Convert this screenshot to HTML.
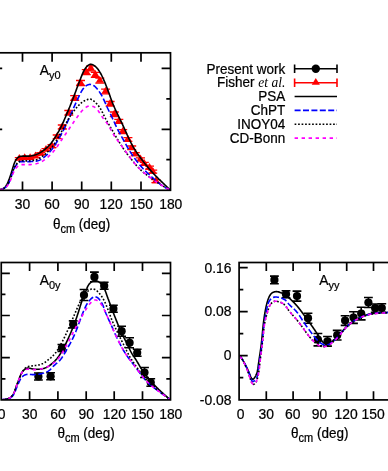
<!DOCTYPE html>
<html><head><meta charset="utf-8"><title>plot</title>
<style>html,body{margin:0;padding:0;background:#fff;}svg{display:block;will-change:transform;}text{font-family:"Liberation Sans",sans-serif;font-size:13.5px;fill:#000;stroke:#000;stroke-width:0.22px;}.sub{font-size:11px;}.tk{font-size:13.9px;}.lab{font-size:13.8px;}.it{font-family:"Liberation Serif",serif;font-style:italic;stroke:none;}</style>
</head><body>
<svg width="388" height="471" viewBox="0 0 388 471">
<rect x="0" y="0" width="388" height="471" fill="#fff"/>
<defs>
<clipPath id="cT"><rect x="-7.1" y="52.5" width="177.85" height="137.5"/></clipPath>
<clipPath id="cL"><rect x="1.25" y="262.5" width="169.5" height="137.25"/></clipPath>
<clipPath id="cR"><rect x="239.1" y="262.5" width="160.8" height="137.25"/></clipPath>
</defs>
<g id="top">
<path d="M14.80,157.66h9.0M14.80,159.66h9.0M20.20,156.99h9.0M20.20,158.99h9.0M25.60,156.85h9.0M25.60,158.85h9.0M31.00,155.33h9.0M31.00,157.33h9.0M36.30,152.65h9.0M36.30,154.65h9.0M41.50,148.60h9.0M41.50,150.60h9.0M47.50,144.70h9.0M47.50,147.70h9.0M52.70,135.00h9.0M52.70,138.60h9.0M57.80,125.00h9.0M57.80,129.00h9.0M64.30,110.50h9.0M64.30,115.10h9.0M70.20,95.70h9.0M70.20,100.30h9.0M76.00,80.50h9.0M76.00,85.50h9.0M81.80,69.70h9.0M81.80,74.70h9.0M86.30,65.80h9.0M86.30,70.80h9.0M90.80,72.30h9.0M90.80,77.30h9.0M95.30,78.10h9.0M95.30,83.10h9.0M101.10,89.20h9.0M101.10,93.80h9.0M105.60,101.50h9.0M105.60,106.10h9.0M109.80,112.00h9.0M109.80,116.60h9.0M114.30,119.40h9.0M114.30,123.40h9.0M118.20,129.70h9.0M118.20,133.70h9.0M123.40,137.70h9.0M123.40,141.30h9.0M127.20,146.00h9.0M127.20,149.60h9.0M130.80,152.70h9.0M130.80,155.70h9.0M136.00,157.80h9.0M136.00,160.80h9.0M139.80,162.30h9.0M139.80,165.30h9.0M145.00,166.20h9.0M145.00,169.20h9.0M148.20,170.10h9.0M148.20,173.10h9.0M151.40,179.70h9.0M151.40,182.70h9.0" stroke="#f00" stroke-width="1.3" fill="none"/>
<path d="M19.30,153.96L23.40,160.76L15.20,160.76ZM24.70,153.29L28.80,160.09L20.60,160.09ZM30.10,153.14L34.20,159.95L26.00,159.95ZM35.50,151.62L39.60,158.43L31.40,158.43ZM40.80,148.94L44.90,155.75L36.70,155.75ZM46.00,144.90L50.10,151.70L41.90,151.70ZM52.00,141.50L56.10,148.30L47.90,148.30ZM57.20,132.10L61.30,138.90L53.10,138.90ZM62.30,122.30L66.40,129.10L58.20,129.10ZM68.80,108.10L72.90,114.90L64.70,114.90ZM74.70,93.30L78.80,100.10L70.60,100.10ZM80.50,78.30L84.60,85.10L76.40,85.10ZM86.30,67.50L90.40,74.30L82.20,74.30ZM90.80,63.60L94.90,70.40L86.70,70.40ZM95.30,70.10L99.40,76.90L91.20,76.90ZM99.80,75.90L103.90,82.70L95.70,82.70ZM105.60,86.80L109.70,93.60L101.50,93.60ZM110.10,99.10L114.20,105.90L106.00,105.90ZM114.30,109.60L118.40,116.40L110.20,116.40ZM118.80,116.70L122.90,123.50L114.70,123.50ZM122.70,127.00L126.80,133.80L118.60,133.80ZM127.90,134.80L132.00,141.60L123.80,141.60ZM131.70,143.10L135.80,149.90L127.60,149.90ZM135.30,149.50L139.40,156.30L131.20,156.30ZM140.50,154.60L144.60,161.40L136.40,161.40ZM144.30,159.10L148.40,165.90L140.20,165.90ZM149.50,163.00L153.60,169.80L145.40,169.80ZM152.70,166.90L156.80,173.70L148.60,173.70ZM155.90,176.50L160.00,183.30L151.80,183.30Z" fill="#f00" stroke="none"/>
<g clip-path="url(#cT)" fill="none" stroke-width="1.6">
<path d="M-7.00,190.00 L-6.17,189.96 L-5.33,189.93 L-4.50,189.90 L-3.66,189.86 L-2.83,189.82 L-2.00,189.76 L-1.17,189.67 L-0.35,189.56 L0.47,189.41 L1.28,189.21 L2.08,188.97 L2.87,188.67 L3.62,188.30 L4.31,187.85 L4.92,187.30 L5.47,186.68 L5.97,186.01 L6.42,185.28 L6.83,184.53 L7.22,183.76 L7.59,182.99 L7.94,182.22 L8.27,181.45 L8.59,180.68 L8.90,179.91 L9.20,179.14 L9.48,178.36 L9.76,177.58 L10.03,176.80 L10.29,176.02 L10.55,175.23 L10.81,174.44 L11.06,173.65 L11.30,172.86 L11.55,172.06 L11.79,171.27 L12.03,170.47 L12.27,169.67 L12.51,168.87 L12.76,168.07 L13.00,167.27 L13.25,166.47 L13.50,165.67 L13.76,164.87 L14.03,164.08 L14.32,163.30 L14.62,162.52 L14.96,161.75 L15.32,161.00 L15.72,160.27 L16.16,159.56 L16.64,158.87 L17.19,158.23 L17.80,157.66 L18.48,157.18 L19.22,156.79 L20.00,156.50 L20.81,156.30 L21.64,156.18 L22.47,156.11 L23.31,156.08 L24.15,156.08 L24.98,156.10 L25.82,156.13 L26.65,156.15 L27.48,156.17 L28.31,156.16 L29.14,156.13 L29.97,156.07 L30.80,155.96 L31.62,155.82 L32.43,155.64 L33.24,155.44 L34.05,155.20 L34.85,154.95 L35.64,154.68 L36.42,154.38 L37.20,154.07 L37.96,153.74 L38.72,153.38 L39.46,153.00 L40.19,152.61 L40.91,152.18 L41.61,151.74 L42.31,151.28 L42.99,150.80 L43.66,150.30 L44.32,149.79 L44.97,149.27 L45.62,148.73 L46.25,148.19 L46.88,147.63 L47.49,147.06 L48.09,146.49 L48.68,145.90 L49.26,145.29 L49.82,144.68 L50.37,144.05 L50.90,143.42 L51.42,142.77 L51.93,142.10 L52.42,141.43 L52.90,140.75 L53.38,140.07 L53.84,139.37 L54.30,138.67 L54.75,137.97 L55.19,137.26 L55.63,136.55 L56.07,135.84 L56.50,135.12 L56.93,134.41 L57.35,133.69 L57.77,132.97 L58.19,132.25 L58.60,131.52 L59.01,130.80 L59.41,130.06 L59.80,129.33 L60.19,128.59 L60.57,127.85 L60.94,127.11 L61.31,126.36 L61.67,125.61 L62.03,124.86 L62.38,124.11 L62.73,123.35 L63.07,122.59 L63.41,121.83 L63.74,121.06 L64.07,120.30 L64.40,119.53 L64.73,118.76 L65.06,118.00 L65.38,117.23 L65.71,116.46 L66.03,115.69 L66.35,114.92 L66.68,114.16 L67.00,113.39 L67.33,112.62 L67.65,111.85 L67.97,111.08 L68.30,110.32 L68.62,109.55 L68.94,108.78 L69.26,108.01 L69.58,107.24 L69.90,106.47 L70.21,105.70 L70.53,104.93 L70.84,104.15 L71.15,103.38 L71.46,102.61 L71.76,101.83 L72.07,101.06 L72.37,100.28 L72.67,99.50 L72.97,98.72 L73.27,97.95 L73.57,97.17 L73.86,96.39 L74.16,95.61 L74.45,94.83 L74.74,94.05 L75.03,93.27 L75.32,92.49 L75.61,91.71 L75.90,90.93 L76.19,90.15 L76.48,89.37 L76.77,88.59 L77.06,87.81 L77.35,87.02 L77.65,86.24 L77.94,85.46 L78.23,84.68 L78.53,83.89 L78.83,83.11 L79.13,82.33 L79.43,81.55 L79.73,80.76 L80.03,79.99 L80.33,79.21 L80.64,78.43 L80.94,77.66 L81.25,76.89 L81.55,76.12 L81.86,75.35 L82.16,74.59 L82.47,73.83 L82.79,73.08 L83.12,72.33 L83.47,71.59 L83.84,70.85 L84.24,70.12 L84.67,69.39 L85.13,68.68 L85.64,67.97 L86.19,67.26 L86.79,66.58 L87.44,65.94 L88.12,65.37 L88.83,64.90 L89.58,64.54 L90.34,64.34 L91.13,64.31 L91.92,64.45 L92.71,64.74 L93.49,65.14 L94.23,65.61 L94.93,66.13 L95.58,66.67 L96.19,67.25 L96.77,67.84 L97.31,68.46 L97.83,69.10 L98.32,69.76 L98.80,70.44 L99.26,71.12 L99.70,71.83 L100.13,72.54 L100.55,73.27 L100.95,74.00 L101.34,74.74 L101.72,75.49 L102.09,76.25 L102.45,77.01 L102.80,77.77 L103.15,78.54 L103.49,79.30 L103.83,80.07 L104.16,80.84 L104.49,81.60 L104.81,82.37 L105.13,83.14 L105.45,83.91 L105.76,84.69 L106.06,85.46 L106.37,86.23 L106.67,87.01 L106.97,87.79 L107.26,88.56 L107.55,89.34 L107.84,90.12 L108.13,90.90 L108.41,91.69 L108.70,92.47 L108.98,93.25 L109.26,94.04 L109.54,94.82 L109.82,95.60 L110.11,96.39 L110.39,97.17 L110.67,97.96 L110.96,98.74 L111.25,99.52 L111.54,100.31 L111.83,101.09 L112.13,101.87 L112.43,102.64 L112.73,103.42 L113.04,104.19 L113.36,104.96 L113.68,105.73 L114.00,106.50 L114.33,107.27 L114.67,108.03 L115.01,108.79 L115.36,109.54 L115.71,110.30 L116.06,111.05 L116.42,111.81 L116.78,112.56 L117.15,113.31 L117.51,114.06 L117.88,114.81 L118.24,115.55 L118.61,116.30 L118.98,117.05 L119.35,117.80 L119.71,118.55 L120.08,119.30 L120.44,120.05 L120.80,120.80 L121.16,121.55 L121.51,122.31 L121.86,123.06 L122.21,123.82 L122.56,124.57 L122.91,125.33 L123.25,126.09 L123.59,126.85 L123.94,127.61 L124.28,128.37 L124.62,129.13 L124.96,129.89 L125.30,130.65 L125.64,131.41 L125.98,132.17 L126.32,132.94 L126.66,133.70 L127.00,134.46 L127.34,135.22 L127.69,135.98 L128.03,136.74 L128.38,137.50 L128.73,138.25 L129.09,139.01 L129.45,139.76 L129.81,140.51 L130.18,141.26 L130.55,142.01 L130.92,142.75 L131.30,143.49 L131.69,144.23 L132.09,144.97 L132.49,145.70 L132.90,146.42 L133.31,147.14 L133.74,147.86 L134.17,148.57 L134.61,149.28 L135.06,149.98 L135.51,150.68 L135.97,151.38 L136.43,152.07 L136.90,152.76 L137.37,153.44 L137.85,154.13 L138.33,154.81 L138.81,155.49 L139.29,156.17 L139.78,156.85 L140.27,157.52 L140.76,158.20 L141.26,158.87 L141.75,159.54 L142.26,160.20 L142.76,160.87 L143.27,161.53 L143.77,162.19 L144.29,162.84 L144.80,163.50 L145.32,164.15 L145.84,164.80 L146.37,165.45 L146.90,166.09 L147.43,166.74 L147.96,167.38 L148.50,168.01 L149.04,168.65 L149.59,169.28 L150.14,169.90 L150.69,170.53 L151.24,171.15 L151.80,171.77 L152.36,172.38 L152.93,173.00 L153.50,173.60 L154.07,174.21 L154.65,174.81 L155.23,175.41 L155.81,176.01 L156.39,176.60 L156.98,177.19 L157.57,177.78 L158.16,178.37 L158.75,178.96 L159.35,179.54 L159.94,180.12 L160.54,180.70 L161.14,181.28 L161.74,181.86 L162.34,182.44 L162.94,183.02 L163.54,183.60 L164.14,184.18 L164.74,184.75 L165.34,185.33 L165.94,185.91 L166.54,186.49 L167.14,187.07 L167.73,187.66 L168.33,188.24 L168.92,188.82 L169.51,189.41 L170.10,190.00" stroke="#000"/>
<path d="M-7.00,190.00 L-6.24,190.01 L-5.45,190.02 L-4.63,190.03 L-3.79,190.02 L-2.94,189.99 L-2.08,189.94 L-1.22,189.86 L-0.35,189.76 L0.50,189.61 L1.33,189.43 L2.15,189.20 L2.94,188.91 L3.70,188.58 L4.43,188.18 L5.11,187.72 L5.74,187.19 L6.33,186.61 L6.88,185.98 L7.38,185.30 L7.86,184.60 L8.29,183.87 L8.70,183.13 L9.08,182.38 L9.43,181.62 L9.76,180.85 L10.07,180.08 L10.37,179.31 L10.65,178.53 L10.92,177.74 L11.18,176.95 L11.44,176.16 L11.70,175.37 L11.96,174.57 L12.22,173.78 L12.48,172.99 L12.76,172.20 L13.04,171.42 L13.33,170.64 L13.63,169.87 L13.96,169.10 L14.30,168.34 L14.66,167.59 L15.05,166.86 L15.46,166.14 L15.91,165.44 L16.40,164.75 L16.93,164.09 L17.50,163.45 L18.12,162.87 L18.79,162.37 L19.52,161.99 L20.30,161.76 L21.12,161.64 L21.96,161.60 L22.82,161.60 L23.67,161.61 L24.52,161.62 L25.35,161.62 L26.18,161.63 L27.01,161.63 L27.84,161.62 L28.66,161.62 L29.49,161.61 L30.32,161.59 L31.15,161.57 L31.98,161.55 L32.81,161.50 L33.64,161.44 L34.47,161.36 L35.30,161.26 L36.13,161.12 L36.95,160.96 L37.76,160.75 L38.55,160.50 L39.33,160.21 L40.08,159.87 L40.82,159.48 L41.53,159.06 L42.23,158.60 L42.92,158.12 L43.59,157.61 L44.25,157.08 L44.90,156.54 L45.54,156.00 L46.17,155.44 L46.79,154.88 L47.40,154.32 L48.01,153.74 L48.60,153.16 L49.18,152.56 L49.74,151.96 L50.29,151.34 L50.83,150.71 L51.36,150.06 L51.87,149.41 L52.37,148.74 L52.85,148.07 L53.33,147.38 L53.80,146.69 L54.26,146.00 L54.72,145.29 L55.17,144.59 L55.61,143.88 L56.05,143.17 L56.49,142.46 L56.92,141.75 L57.36,141.04 L57.78,140.33 L58.21,139.61 L58.63,138.89 L59.05,138.17 L59.47,137.45 L59.88,136.73 L60.29,136.01 L60.70,135.28 L61.10,134.56 L61.50,133.83 L61.90,133.10 L62.30,132.36 L62.69,131.63 L63.08,130.89 L63.47,130.16 L63.85,129.42 L64.23,128.67 L64.61,127.93 L64.98,127.19 L65.35,126.44 L65.71,125.69 L66.07,124.94 L66.43,124.19 L66.78,123.43 L67.13,122.68 L67.48,121.92 L67.82,121.16 L68.16,120.40 L68.50,119.64 L68.84,118.88 L69.17,118.12 L69.51,117.36 L69.84,116.59 L70.17,115.83 L70.51,115.07 L70.84,114.30 L71.17,113.54 L71.50,112.77 L71.83,112.01 L72.17,111.25 L72.50,110.48 L72.83,109.72 L73.17,108.96 L73.50,108.20 L73.84,107.44 L74.18,106.68 L74.52,105.92 L74.86,105.16 L75.21,104.40 L75.56,103.64 L75.90,102.89 L76.25,102.13 L76.60,101.38 L76.96,100.62 L77.31,99.87 L77.66,99.11 L78.02,98.36 L78.37,97.61 L78.72,96.85 L79.08,96.10 L79.43,95.35 L79.79,94.60 L80.16,93.85 L80.54,93.11 L80.92,92.37 L81.33,91.64 L81.75,90.92 L82.18,90.21 L82.64,89.51 L83.13,88.82 L83.64,88.15 L84.18,87.50 L84.76,86.89 L85.37,86.32 L86.03,85.80 L86.73,85.35 L87.48,84.97 L88.28,84.67 L89.10,84.48 L89.93,84.40 L90.76,84.45 L91.57,84.62 L92.37,84.90 L93.14,85.27 L93.87,85.71 L94.55,86.20 L95.19,86.74 L95.79,87.32 L96.37,87.92 L96.91,88.55 L97.44,89.20 L97.95,89.87 L98.45,90.53 L98.94,91.21 L99.42,91.89 L99.89,92.58 L100.35,93.28 L100.79,93.98 L101.22,94.69 L101.64,95.41 L102.04,96.14 L102.43,96.87 L102.80,97.61 L103.17,98.36 L103.53,99.11 L103.88,99.87 L104.23,100.62 L104.57,101.39 L104.90,102.15 L105.24,102.91 L105.57,103.68 L105.91,104.44 L106.25,105.21 L106.59,105.97 L106.93,106.73 L107.28,107.48 L107.63,108.24 L107.99,108.99 L108.35,109.74 L108.71,110.49 L109.07,111.24 L109.43,111.99 L109.79,112.74 L110.16,113.49 L110.52,114.24 L110.88,114.99 L111.25,115.74 L111.60,116.49 L111.96,117.24 L112.32,117.99 L112.67,118.75 L113.02,119.50 L113.37,120.26 L113.72,121.02 L114.07,121.77 L114.41,122.53 L114.76,123.29 L115.11,124.04 L115.47,124.80 L115.82,125.55 L116.18,126.30 L116.54,127.05 L116.90,127.80 L117.27,128.55 L117.64,129.29 L118.01,130.04 L118.39,130.78 L118.78,131.51 L119.17,132.25 L119.57,132.98 L119.96,133.71 L120.37,134.44 L120.77,135.17 L121.18,135.90 L121.58,136.62 L121.99,137.35 L122.40,138.07 L122.81,138.80 L123.22,139.52 L123.63,140.25 L124.03,140.98 L124.44,141.71 L124.84,142.44 L125.24,143.17 L125.64,143.90 L126.04,144.63 L126.44,145.36 L126.84,146.09 L127.24,146.82 L127.65,147.54 L128.07,148.26 L128.49,148.98 L128.92,149.69 L129.35,150.40 L129.79,151.11 L130.24,151.81 L130.69,152.51 L131.15,153.20 L131.61,153.90 L132.08,154.59 L132.55,155.28 L133.02,155.97 L133.49,156.65 L133.97,157.33 L134.45,158.02 L134.94,158.69 L135.43,159.37 L135.92,160.04 L136.42,160.71 L136.92,161.38 L137.42,162.04 L137.94,162.69 L138.45,163.35 L138.98,163.99 L139.51,164.63 L140.04,165.27 L140.59,165.90 L141.14,166.52 L141.69,167.14 L142.26,167.75 L142.82,168.36 L143.40,168.96 L143.98,169.56 L144.56,170.15 L145.15,170.74 L145.74,171.33 L146.34,171.91 L146.94,172.49 L147.54,173.07 L148.15,173.64 L148.76,174.21 L149.37,174.78 L149.98,175.35 L150.59,175.91 L151.21,176.48 L151.83,177.04 L152.44,177.60 L153.06,178.16 L153.68,178.71 L154.31,179.27 L154.93,179.82 L155.56,180.36 L156.20,180.90 L156.84,181.44 L157.48,181.97 L158.12,182.49 L158.77,183.01 L159.43,183.52 L160.09,184.02 L160.76,184.51 L161.43,185.00 L162.11,185.48 L162.80,185.94 L163.49,186.40 L164.19,186.85 L164.90,187.29 L165.62,187.71 L166.34,188.13 L167.07,188.53 L167.82,188.92 L168.57,189.29 L169.33,189.65 L170.10,190.00" stroke="#00f" stroke-dasharray="6 2.4"/>
<path d="M-7.00,190.00 L-6.24,190.00 L-5.45,190.00 L-4.64,189.99 L-3.80,189.97 L-2.95,189.93 L-2.08,189.87 L-1.22,189.78 L-0.35,189.66 L0.50,189.50 L1.34,189.31 L2.15,189.06 L2.94,188.77 L3.70,188.42 L4.41,188.01 L5.08,187.54 L5.70,187.00 L6.27,186.40 L6.80,185.75 L7.29,185.07 L7.75,184.35 L8.17,183.61 L8.57,182.86 L8.95,182.10 L9.30,181.35 L9.64,180.58 L9.96,179.81 L10.26,179.04 L10.55,178.26 L10.83,177.48 L11.10,176.70 L11.37,175.90 L11.62,175.11 L11.88,174.32 L12.14,173.52 L12.40,172.73 L12.67,171.93 L12.94,171.15 L13.23,170.37 L13.54,169.59 L13.86,168.83 L14.20,168.07 L14.56,167.33 L14.95,166.60 L15.36,165.88 L15.80,165.17 L16.27,164.47 L16.77,163.79 L17.31,163.12 L17.89,162.49 L18.51,161.92 L19.19,161.46 L19.93,161.13 L20.73,160.93 L21.57,160.83 L22.42,160.80 L23.28,160.80 L24.13,160.81 L24.98,160.83 L25.81,160.84 L26.64,160.86 L27.47,160.86 L28.29,160.86 L29.12,160.84 L29.94,160.80 L30.77,160.74 L31.60,160.66 L32.42,160.56 L33.25,160.43 L34.08,160.29 L34.90,160.12 L35.71,159.92 L36.52,159.69 L37.31,159.42 L38.07,159.11 L38.82,158.75 L39.55,158.35 L40.25,157.91 L40.94,157.44 L41.62,156.94 L42.29,156.43 L42.95,155.91 L43.60,155.38 L44.24,154.84 L44.88,154.31 L45.52,153.77 L46.14,153.22 L46.76,152.66 L47.37,152.10 L47.97,151.52 L48.56,150.94 L49.14,150.34 L49.71,149.73 L50.27,149.11 L50.82,148.48 L51.36,147.84 L51.88,147.19 L52.40,146.54 L52.90,145.87 L53.39,145.19 L53.87,144.51 L54.34,143.82 L54.80,143.13 L55.25,142.43 L55.69,141.72 L56.13,141.01 L56.55,140.29 L56.98,139.58 L57.40,138.86 L57.82,138.13 L58.23,137.41 L58.65,136.69 L59.06,135.97 L59.48,135.24 L59.90,134.52 L60.31,133.80 L60.73,133.08 L61.14,132.35 L61.55,131.63 L61.96,130.90 L62.37,130.18 L62.78,129.45 L63.18,128.72 L63.58,127.99 L63.98,127.26 L64.37,126.52 L64.76,125.79 L65.15,125.05 L65.54,124.31 L65.93,123.58 L66.32,122.84 L66.72,122.11 L67.12,121.37 L67.52,120.64 L67.93,119.92 L68.35,119.20 L68.77,118.48 L69.20,117.77 L69.64,117.06 L70.09,116.36 L70.55,115.67 L71.02,114.98 L71.49,114.29 L71.97,113.61 L72.45,112.93 L72.94,112.25 L73.44,111.58 L73.94,110.91 L74.44,110.25 L74.96,109.59 L75.47,108.94 L76.00,108.29 L76.54,107.65 L77.08,107.02 L77.64,106.40 L78.21,105.80 L78.80,105.20 L79.40,104.62 L80.01,104.05 L80.64,103.50 L81.29,102.97 L81.95,102.46 L82.62,101.97 L83.32,101.50 L84.03,101.06 L84.75,100.65 L85.49,100.27 L86.26,99.93 L87.04,99.64 L87.84,99.39 L88.67,99.20 L89.50,99.10 L90.31,99.14 L91.10,99.34 L91.86,99.68 L92.59,100.12 L93.30,100.63 L93.98,101.18 L94.64,101.75 L95.27,102.32 L95.88,102.91 L96.47,103.50 L97.04,104.11 L97.59,104.73 L98.11,105.36 L98.62,106.00 L99.10,106.66 L99.57,107.34 L100.02,108.03 L100.45,108.73 L100.87,109.44 L101.27,110.17 L101.66,110.90 L102.05,111.64 L102.43,112.39 L102.80,113.14 L103.17,113.90 L103.53,114.65 L103.90,115.41 L104.27,116.16 L104.64,116.92 L105.02,117.66 L105.41,118.41 L105.80,119.15 L106.21,119.88 L106.62,120.61 L107.03,121.33 L107.45,122.05 L107.87,122.77 L108.30,123.48 L108.72,124.20 L109.15,124.91 L109.57,125.63 L110.00,126.34 L110.42,127.06 L110.84,127.78 L111.25,128.50 L111.66,129.23 L112.07,129.95 L112.48,130.68 L112.88,131.41 L113.29,132.14 L113.70,132.86 L114.10,133.59 L114.52,134.32 L114.93,135.04 L115.34,135.76 L115.77,136.48 L116.19,137.20 L116.62,137.91 L117.05,138.62 L117.49,139.33 L117.93,140.04 L118.37,140.75 L118.81,141.46 L119.25,142.16 L119.70,142.87 L120.15,143.57 L120.59,144.27 L121.04,144.98 L121.49,145.68 L121.93,146.39 L122.38,147.09 L122.84,147.79 L123.29,148.48 L123.75,149.18 L124.22,149.87 L124.69,150.56 L125.17,151.24 L125.65,151.91 L126.15,152.58 L126.65,153.25 L127.15,153.91 L127.66,154.57 L128.17,155.23 L128.68,155.89 L129.20,156.54 L129.72,157.19 L130.24,157.85 L130.76,158.50 L131.28,159.15 L131.80,159.80 L132.32,160.46 L132.84,161.11 L133.36,161.76 L133.88,162.42 L134.40,163.06 L134.93,163.71 L135.47,164.35 L136.01,164.98 L136.55,165.61 L137.10,166.23 L137.67,166.85 L138.24,167.45 L138.82,168.05 L139.40,168.64 L140.00,169.22 L140.61,169.80 L141.22,170.36 L141.84,170.92 L142.46,171.48 L143.09,172.02 L143.73,172.56 L144.37,173.10 L145.01,173.63 L145.66,174.15 L146.32,174.67 L146.97,175.19 L147.63,175.70 L148.29,176.20 L148.96,176.70 L149.63,177.20 L150.30,177.70 L150.97,178.18 L151.65,178.67 L152.33,179.15 L153.01,179.63 L153.70,180.11 L154.38,180.58 L155.07,181.04 L155.77,181.51 L156.46,181.97 L157.16,182.43 L157.86,182.88 L158.56,183.33 L159.26,183.78 L159.97,184.22 L160.68,184.66 L161.39,185.09 L162.10,185.52 L162.82,185.95 L163.54,186.37 L164.26,186.79 L164.98,187.21 L165.70,187.62 L166.43,188.03 L167.16,188.43 L167.89,188.83 L168.63,189.22 L169.36,189.61 L170.10,190.00" stroke="#000" stroke-dasharray="1.7 1.8"/>
<path d="M-7.00,190.00 L-6.24,189.99 L-5.44,189.98 L-4.63,189.97 L-3.79,189.96 L-2.94,189.94 L-2.09,189.90 L-1.23,189.84 L-0.37,189.75 L0.48,189.63 L1.32,189.47 L2.14,189.26 L2.94,189.01 L3.71,188.70 L4.45,188.34 L5.14,187.90 L5.80,187.40 L6.42,186.85 L6.99,186.24 L7.53,185.59 L8.03,184.91 L8.50,184.20 L8.93,183.49 L9.33,182.75 L9.71,182.01 L10.06,181.26 L10.39,180.50 L10.71,179.73 L11.02,178.96 L11.31,178.18 L11.60,177.40 L11.89,176.62 L12.18,175.84 L12.48,175.07 L12.78,174.29 L13.09,173.52 L13.42,172.76 L13.76,172.00 L14.12,171.26 L14.51,170.52 L14.92,169.80 L15.36,169.10 L15.84,168.41 L16.35,167.75 L16.90,167.11 L17.49,166.50 L18.12,165.94 L18.80,165.46 L19.53,165.09 L20.31,164.84 L21.13,164.69 L21.97,164.62 L22.82,164.60 L23.66,164.60 L24.50,164.60 L25.34,164.61 L26.17,164.62 L27.00,164.63 L27.82,164.64 L28.65,164.63 L29.47,164.62 L30.30,164.59 L31.13,164.54 L31.96,164.47 L32.79,164.38 L33.62,164.27 L34.44,164.14 L35.26,163.98 L36.08,163.80 L36.89,163.59 L37.69,163.35 L38.48,163.08 L39.25,162.78 L40.02,162.46 L40.77,162.10 L41.52,161.72 L42.24,161.32 L42.96,160.89 L43.66,160.44 L44.35,159.97 L45.02,159.48 L45.68,158.97 L46.33,158.45 L46.96,157.92 L47.59,157.37 L48.21,156.82 L48.82,156.25 L49.42,155.68 L50.02,155.10 L50.61,154.51 L51.20,153.92 L51.78,153.32 L52.35,152.71 L52.91,152.10 L53.45,151.48 L53.99,150.84 L54.52,150.20 L55.03,149.55 L55.53,148.89 L56.03,148.22 L56.51,147.55 L56.99,146.86 L57.46,146.18 L57.92,145.49 L58.38,144.80 L58.84,144.10 L59.30,143.41 L59.76,142.71 L60.22,142.02 L60.68,141.33 L61.14,140.64 L61.61,139.95 L62.07,139.26 L62.54,138.57 L63.01,137.89 L63.47,137.20 L63.94,136.51 L64.41,135.83 L64.87,135.14 L65.34,134.45 L65.81,133.76 L66.27,133.08 L66.74,132.39 L67.20,131.70 L67.67,131.01 L68.13,130.32 L68.60,129.63 L69.06,128.94 L69.52,128.25 L69.99,127.56 L70.45,126.88 L70.92,126.19 L71.38,125.50 L71.85,124.81 L72.31,124.12 L72.78,123.43 L73.25,122.75 L73.72,122.06 L74.19,121.38 L74.66,120.69 L75.13,120.01 L75.61,119.33 L76.08,118.65 L76.56,117.97 L77.04,117.29 L77.53,116.62 L78.01,115.94 L78.50,115.27 L78.99,114.60 L79.49,113.93 L79.99,113.27 L80.50,112.62 L81.02,111.97 L81.56,111.33 L82.11,110.71 L82.68,110.10 L83.27,109.51 L83.88,108.93 L84.51,108.38 L85.17,107.85 L85.86,107.37 L86.57,106.94 L87.31,106.57 L88.09,106.27 L88.89,106.05 L89.72,105.93 L90.55,105.90 L91.39,105.97 L92.22,106.13 L93.03,106.38 L93.81,106.70 L94.55,107.10 L95.24,107.57 L95.88,108.10 L96.48,108.67 L97.04,109.29 L97.57,109.94 L98.08,110.61 L98.56,111.30 L99.03,112.00 L99.49,112.70 L99.94,113.40 L100.39,114.11 L100.84,114.81 L101.29,115.50 L101.74,116.19 L102.20,116.88 L102.67,117.56 L103.16,118.23 L103.65,118.90 L104.15,119.56 L104.66,120.22 L105.17,120.88 L105.68,121.54 L106.19,122.20 L106.68,122.86 L107.17,123.54 L107.64,124.22 L108.10,124.91 L108.54,125.61 L108.97,126.32 L109.38,127.04 L109.79,127.77 L110.18,128.50 L110.58,129.23 L110.97,129.97 L111.35,130.71 L111.75,131.44 L112.14,132.17 L112.54,132.90 L112.95,133.62 L113.38,134.34 L113.81,135.05 L114.26,135.75 L114.71,136.45 L115.17,137.14 L115.64,137.82 L116.11,138.51 L116.59,139.18 L117.08,139.86 L117.57,140.53 L118.06,141.21 L118.55,141.88 L119.04,142.54 L119.54,143.21 L120.03,143.88 L120.53,144.54 L121.03,145.21 L121.53,145.87 L122.03,146.54 L122.53,147.20 L123.03,147.86 L123.53,148.53 L124.03,149.19 L124.52,149.86 L125.02,150.53 L125.51,151.19 L126.00,151.87 L126.49,152.54 L126.97,153.21 L127.46,153.89 L127.94,154.56 L128.43,155.24 L128.91,155.91 L129.40,156.58 L129.89,157.26 L130.38,157.93 L130.87,158.60 L131.37,159.26 L131.87,159.93 L132.38,160.59 L132.89,161.24 L133.40,161.90 L133.92,162.55 L134.45,163.19 L134.98,163.83 L135.52,164.46 L136.06,165.09 L136.62,165.71 L137.17,166.33 L137.74,166.93 L138.32,167.53 L138.90,168.12 L139.49,168.71 L140.09,169.29 L140.69,169.86 L141.30,170.42 L141.92,170.98 L142.54,171.53 L143.17,172.08 L143.80,172.62 L144.44,173.15 L145.08,173.68 L145.73,174.20 L146.38,174.72 L147.03,175.24 L147.69,175.74 L148.35,176.25 L149.01,176.75 L149.68,177.24 L150.35,177.74 L151.02,178.22 L151.70,178.71 L152.38,179.19 L153.06,179.66 L153.74,180.14 L154.43,180.61 L155.12,181.07 L155.81,181.53 L156.50,181.99 L157.19,182.45 L157.89,182.90 L158.59,183.35 L159.29,183.79 L160.00,184.23 L160.70,184.67 L161.41,185.11 L162.12,185.54 L162.84,185.96 L163.55,186.38 L164.27,186.80 L164.99,187.22 L165.72,187.63 L166.44,188.03 L167.17,188.43 L167.90,188.83 L168.63,189.23 L169.36,189.61 L170.10,190.00" stroke="#f0f" stroke-dasharray="3.4 3.6"/>
</g>
<rect x="-6.7" y="52.8" width="177.2" height="137.5" fill="none" stroke="#000" stroke-width="1.7"/>
<path d="M22.5,190.3v-8.9M22.5,52.8v8.9M52.1,190.3v-8.9M52.1,52.8v8.9M81.7,190.3v-8.9M81.7,52.8v8.9M111.3,190.3v-8.9M111.3,52.8v8.9M141,190.3v-8.9M141,52.8v8.9M-6.7,68.4h8.9M-6.7,129.3h8.9M170.5,68.4h-8.9M170.5,129.3h-8.9M-6.7,98.8h4.2M170.5,98.8h-4.2M-6.7,159.7h4.2M170.5,159.7h-4.2" stroke="#000" stroke-width="1.7" fill="none"/>
<text transform="translate(22.5 209.3) scale(1 1.1)" class="tk" text-anchor="middle">30</text>
<text transform="translate(52.1 209.3) scale(1 1.1)" class="tk" text-anchor="middle">60</text>
<text transform="translate(81.8 209.3) scale(1 1.1)" class="tk" text-anchor="middle">90</text>
<text transform="translate(111.2 209.3) scale(1 1.1)" class="tk" text-anchor="middle">120</text>
<text transform="translate(141.3 209.3) scale(1 1.1)" class="tk" text-anchor="middle">150</text>
<text transform="translate(170.75 209.3) scale(1 1.1)" class="tk" text-anchor="middle">180</text>
<text transform="translate(52.9 229) scale(1 1.1)">θ<tspan class="sub" dy="3.8">cm</tspan><tspan dy="-3.8"> (deg)</tspan></text>
<text transform="translate(39.7 75.4) scale(1 1.06)" class="lab">A<tspan class="sub" dy="3.8">y0</tspan></text>
</g>
<g id="legend">
<text transform="translate(285.3 73.5) scale(1 1.1)" text-anchor="end">Present work</text>
<text transform="translate(285.3 87.3) scale(1 1.1)" text-anchor="end">Fisher <tspan class="it">et al.</tspan></text>
<text transform="translate(285.3 101.1) scale(1 1.1)" text-anchor="end">PSA</text>
<text transform="translate(285.3 114.9) scale(1 1.1)" text-anchor="end">ChPT</text>
<text transform="translate(285.3 128.7) scale(1 1.1)" text-anchor="end">INOY04</text>
<text transform="translate(285.3 142.5) scale(1 1.1)" text-anchor="end">CD-Bonn</text>
<path d="M294.6,68.8H337M294.6,64.5v8.6M337,64.5v8.6" stroke="#000" stroke-width="1.6" fill="none"/>
<circle cx="315.8" cy="68.8" r="4.2" fill="#000"/>
<path d="M294.6,82.7H337M294.6,78.4v8.6M337,78.4v8.6" stroke="#f00" stroke-width="1.6" fill="none"/>
<path d="M315.80,78.00L319.90,84.80L311.70,84.80Z" fill="#f00"/>
<path d="M294.6,96.5H337" stroke="#000" stroke-width="1.6"/>
<path d="M294.6,110.4H337" stroke="#00f" stroke-width="1.6" stroke-dasharray="6 2.4"/>
<path d="M294.6,124.2H337" stroke="#000" stroke-width="1.6" stroke-dasharray="1.7 1.8"/>
<path d="M294.6,138.1H337" stroke="#f0f" stroke-width="1.6" stroke-dasharray="3.4 3.6"/>
</g>
<g id="bl">
<path d="M38.4,373.0V380.0M34.0,373.0h8.8M34.0,380.0h8.8M50.6,372.8V379.8M46.2,372.8h8.8M46.2,379.8h8.8M61.9,344.5V351.5M57.5,344.5h8.8M57.5,351.5h8.8M73.2,320.9V327.9M68.8,320.9h8.8M68.8,327.9h8.8M84,289.5V300.5M79.6,289.5h8.8M79.6,300.5h8.8M94.4,272.09999999999997V281.7M90.0,272.09999999999997h8.8M90.0,281.7h8.8M104.2,282.3V289.3M99.8,282.3h8.8M99.8,289.3h8.8M113.4,305.3V312.3M109.0,305.3h8.8M109.0,312.3h8.8M121.6,326.2V336.2M117.19999999999999,326.2h8.8M117.19999999999999,336.2h8.8M129.6,337.8V347.8M125.19999999999999,337.8h8.8M125.19999999999999,347.8h8.8M137.2,349.3V356.3M132.79999999999998,349.3h8.8M132.79999999999998,356.3h8.8M144.5,367.5V377.5M140.1,367.5h8.8M140.1,377.5h8.8M150.75,378.7V386.3M146.35,378.7h8.8M146.35,386.3h8.8" stroke="#000" stroke-width="1.6" fill="none"/>
<circle cx="38.4" cy="376.5" r="4.1" fill="#000"/>
<circle cx="50.6" cy="376.3" r="4.1" fill="#000"/>
<circle cx="61.9" cy="348" r="4.1" fill="#000"/>
<circle cx="73.2" cy="324.4" r="4.1" fill="#000"/>
<circle cx="84" cy="295" r="4.1" fill="#000"/>
<circle cx="94.4" cy="276.9" r="4.1" fill="#000"/>
<circle cx="104.2" cy="285.8" r="4.1" fill="#000"/>
<circle cx="113.4" cy="308.8" r="4.1" fill="#000"/>
<circle cx="121.6" cy="331.2" r="4.1" fill="#000"/>
<circle cx="129.6" cy="342.8" r="4.1" fill="#000"/>
<circle cx="137.2" cy="352.8" r="4.1" fill="#000"/>
<circle cx="144.5" cy="372.5" r="4.1" fill="#000"/>
<circle cx="150.75" cy="382.5" r="4.1" fill="#000"/>
<g clip-path="url(#cL)" fill="none" stroke-width="1.6">
<path d="M1.50,399.70 L2.28,399.68 L3.09,399.63 L3.92,399.55 L4.77,399.43 L5.61,399.28 L6.46,399.09 L7.29,398.85 L8.10,398.58 L8.89,398.26 L9.65,397.89 L10.36,397.46 L11.03,396.99 L11.64,396.46 L12.20,395.87 L12.69,395.23 L13.14,394.54 L13.54,393.82 L13.91,393.07 L14.25,392.29 L14.56,391.49 L14.86,390.68 L15.14,389.86 L15.42,389.04 L15.70,388.23 L15.98,387.43 L16.26,386.64 L16.55,385.85 L16.84,385.07 L17.13,384.29 L17.42,383.51 L17.71,382.74 L18.00,381.97 L18.29,381.20 L18.58,380.43 L18.87,379.66 L19.16,378.89 L19.44,378.11 L19.73,377.33 L20.02,376.55 L20.33,375.77 L20.65,375.01 L21.00,374.25 L21.37,373.50 L21.78,372.77 L22.23,372.06 L22.73,371.38 L23.27,370.72 L23.87,370.09 L24.52,369.51 L25.21,369.01 L25.94,368.60 L26.70,368.30 L27.49,368.14 L28.30,368.10 L29.12,368.17 L29.95,368.31 L30.79,368.48 L31.63,368.68 L32.47,368.85 L33.30,368.99 L34.14,369.10 L34.96,369.18 L35.79,369.23 L36.62,369.25 L37.45,369.25 L38.28,369.22 L39.11,369.18 L39.94,369.11 L40.78,369.02 L41.61,368.90 L42.43,368.76 L43.25,368.57 L44.05,368.36 L44.84,368.10 L45.61,367.79 L46.37,367.45 L47.11,367.07 L47.83,366.65 L48.54,366.21 L49.24,365.74 L49.92,365.26 L50.59,364.76 L51.25,364.25 L51.90,363.72 L52.54,363.18 L53.16,362.63 L53.77,362.06 L54.36,361.48 L54.95,360.89 L55.51,360.28 L56.07,359.66 L56.61,359.03 L57.13,358.39 L57.64,357.73 L58.14,357.07 L58.63,356.39 L59.11,355.71 L59.57,355.01 L60.03,354.31 L60.47,353.61 L60.91,352.89 L61.34,352.17 L61.76,351.45 L62.17,350.73 L62.57,350.00 L62.97,349.27 L63.36,348.53 L63.75,347.79 L64.13,347.05 L64.50,346.31 L64.87,345.57 L65.24,344.82 L65.60,344.07 L65.96,343.32 L66.32,342.57 L66.67,341.82 L67.02,341.06 L67.37,340.31 L67.72,339.56 L68.07,338.80 L68.41,338.04 L68.76,337.28 L69.10,336.53 L69.44,335.77 L69.77,335.00 L70.11,334.24 L70.44,333.48 L70.77,332.72 L71.09,331.95 L71.42,331.18 L71.74,330.42 L72.06,329.65 L72.37,328.88 L72.68,328.11 L72.99,327.33 L73.30,326.56 L73.60,325.79 L73.90,325.01 L74.20,324.23 L74.49,323.45 L74.79,322.67 L75.07,321.89 L75.36,321.11 L75.64,320.33 L75.92,319.54 L76.19,318.76 L76.47,317.97 L76.74,317.19 L77.00,316.40 L77.27,315.61 L77.53,314.82 L77.78,314.03 L78.04,313.23 L78.29,312.44 L78.54,311.65 L78.79,310.85 L79.04,310.06 L79.29,309.27 L79.53,308.47 L79.78,307.68 L80.03,306.88 L80.28,306.09 L80.53,305.30 L80.78,304.51 L81.04,303.71 L81.30,302.92 L81.56,302.13 L81.82,301.34 L82.09,300.56 L82.36,299.77 L82.63,298.99 L82.91,298.21 L83.20,297.42 L83.49,296.65 L83.79,295.87 L84.09,295.10 L84.40,294.32 L84.72,293.55 L85.05,292.79 L85.38,292.02 L85.72,291.26 L86.07,290.51 L86.43,289.75 L86.80,289.00 L86.80,289.00 L86.96,288.32 L87.19,287.60 L87.50,286.86 L87.87,286.10 L88.31,285.34 L88.80,284.60 L89.35,283.88 L89.95,283.20 L90.59,282.58 L91.27,282.02 L91.99,281.54 L92.75,281.16 L93.53,280.88 L94.33,280.72 L95.16,280.69 L95.98,280.78 L96.80,280.97 L97.60,281.26 L98.35,281.61 L99.06,282.02 L99.74,282.50 L100.37,283.03 L100.97,283.60 L101.54,284.23 L102.07,284.89 L102.57,285.59 L103.04,286.32 L103.49,287.08 L103.91,287.86 L104.30,288.66 L104.68,289.48 L105.03,290.30 L105.37,291.13 L105.69,291.97 L106.00,292.80 L106.29,293.62 L106.57,294.43 L106.85,295.22 L107.11,296.00 L107.37,296.75 L107.63,297.46 L107.89,298.15 L108.14,298.80 L108.40,299.40 L108.40,299.40 L108.68,300.18 L108.97,300.96 L109.25,301.74 L109.53,302.52 L109.82,303.30 L110.10,304.08 L110.39,304.86 L110.68,305.64 L110.96,306.42 L111.25,307.20 L111.54,307.97 L111.83,308.75 L112.12,309.53 L112.41,310.31 L112.70,311.08 L113.00,311.86 L113.29,312.63 L113.59,313.41 L113.89,314.18 L114.18,314.96 L114.48,315.73 L114.78,316.51 L115.09,317.28 L115.39,318.05 L115.70,318.82 L116.00,319.59 L116.31,320.37 L116.62,321.14 L116.93,321.90 L117.25,322.67 L117.56,323.44 L117.88,324.21 L118.20,324.97 L118.52,325.74 L118.84,326.51 L119.17,327.27 L119.50,328.03 L119.83,328.79 L120.16,329.55 L120.50,330.31 L120.84,331.07 L121.18,331.83 L121.52,332.58 L121.87,333.33 L122.23,334.09 L122.58,334.83 L122.95,335.58 L123.31,336.33 L123.68,337.07 L124.05,337.81 L124.43,338.55 L124.80,339.29 L125.18,340.03 L125.56,340.77 L125.93,341.51 L126.31,342.25 L126.68,342.99 L127.04,343.74 L127.41,344.48 L127.76,345.24 L128.12,345.99 L128.46,346.75 L128.81,347.50 L129.16,348.26 L129.51,349.01 L129.86,349.76 L130.23,350.51 L130.60,351.25 L130.98,351.99 L131.38,352.72 L131.79,353.43 L132.22,354.14 L132.67,354.84 L133.14,355.52 L133.61,356.21 L134.08,356.89 L134.55,357.58 L135.01,358.27 L135.46,358.96 L135.91,359.67 L136.34,360.37 L136.77,361.08 L137.20,361.79 L137.62,362.51 L138.04,363.22 L138.46,363.94 L138.88,364.66 L139.30,365.37 L139.72,366.09 L140.15,366.80 L140.57,367.52 L141.01,368.22 L141.44,368.93 L141.89,369.63 L142.34,370.32 L142.80,371.01 L143.27,371.70 L143.75,372.38 L144.23,373.05 L144.72,373.72 L145.21,374.39 L145.72,375.05 L146.22,375.71 L146.74,376.36 L147.26,377.01 L147.78,377.65 L148.32,378.29 L148.85,378.93 L149.39,379.56 L149.94,380.19 L150.49,380.82 L151.04,381.44 L151.60,382.06 L152.16,382.67 L152.72,383.28 L153.29,383.89 L153.86,384.49 L154.43,385.10 L155.00,385.69 L155.58,386.29 L156.17,386.88 L156.75,387.47 L157.34,388.05 L157.93,388.64 L158.52,389.22 L159.12,389.79 L159.72,390.37 L160.32,390.94 L160.93,391.51 L161.54,392.07 L162.15,392.63 L162.76,393.19 L163.37,393.75 L163.99,394.30 L164.61,394.86 L165.24,395.40 L165.86,395.95 L166.49,396.49 L167.12,397.03 L167.75,397.57 L168.38,398.11 L169.02,398.64 L169.66,399.17 L170.30,399.70" stroke="#000"/>
<path d="M1.50,399.70 L2.27,399.66 L3.08,399.61 L3.91,399.55 L4.76,399.46 L5.61,399.34 L6.46,399.19 L7.31,399.00 L8.14,398.77 L8.94,398.50 L9.72,398.17 L10.45,397.79 L11.14,397.35 L11.77,396.85 L12.35,396.28 L12.87,395.66 L13.34,394.98 L13.78,394.27 L14.17,393.52 L14.55,392.75 L14.89,391.96 L15.23,391.16 L15.55,390.37 L15.87,389.58 L16.19,388.80 L16.50,388.03 L16.82,387.26 L17.13,386.49 L17.45,385.73 L17.77,384.97 L18.09,384.22 L18.42,383.46 L18.75,382.70 L19.10,381.95 L19.45,381.19 L19.81,380.43 L20.19,379.68 L20.60,378.95 L21.04,378.24 L21.53,377.57 L22.07,376.93 L22.67,376.35 L23.32,375.82 L24.03,375.35 L24.78,374.97 L25.55,374.67 L26.35,374.47 L27.16,374.36 L27.99,374.32 L28.82,374.34 L29.66,374.39 L30.50,374.46 L31.35,374.54 L32.19,374.60 L33.03,374.63 L33.87,374.64 L34.70,374.62 L35.53,374.57 L36.36,374.50 L37.19,374.41 L38.01,374.30 L38.83,374.18 L39.65,374.04 L40.46,373.89 L41.28,373.72 L42.09,373.53 L42.89,373.32 L43.69,373.08 L44.49,372.82 L45.27,372.53 L46.05,372.22 L46.82,371.87 L47.56,371.49 L48.29,371.07 L48.98,370.61 L49.64,370.10 L50.26,369.56 L50.85,368.97 L51.41,368.36 L51.96,367.74 L52.52,367.11 L53.09,366.50 L53.68,365.92 L54.29,365.35 L54.91,364.80 L55.55,364.25 L56.18,363.71 L56.82,363.18 L57.45,362.63 L58.07,362.08 L58.68,361.52 L59.26,360.94 L59.83,360.34 L60.37,359.71 L60.89,359.07 L61.39,358.41 L61.87,357.74 L62.34,357.05 L62.80,356.35 L63.24,355.65 L63.67,354.93 L64.10,354.21 L64.52,353.48 L64.93,352.75 L65.34,352.01 L65.75,351.28 L66.17,350.55 L66.58,349.82 L66.99,349.10 L67.41,348.37 L67.82,347.65 L68.23,346.92 L68.64,346.20 L69.05,345.48 L69.45,344.75 L69.86,344.03 L70.26,343.30 L70.65,342.57 L71.04,341.84 L71.43,341.11 L71.81,340.37 L72.18,339.64 L72.55,338.89 L72.91,338.15 L73.27,337.40 L73.62,336.64 L73.96,335.89 L74.30,335.13 L74.63,334.37 L74.96,333.60 L75.29,332.84 L75.61,332.07 L75.92,331.30 L76.23,330.52 L76.54,329.75 L76.84,328.97 L77.14,328.20 L77.44,327.42 L77.73,326.64 L78.02,325.86 L78.31,325.08 L78.59,324.30 L78.88,323.51 L79.16,322.73 L79.44,321.95 L79.72,321.17 L80.00,320.39 L80.28,319.61 L80.56,318.83 L80.85,318.04 L81.13,317.27 L81.43,316.49 L81.72,315.71 L82.03,314.93 L82.34,314.15 L82.65,313.38 L82.97,312.61 L83.29,311.84 L83.61,311.07 L83.94,310.31 L84.26,309.56 L84.59,308.81 L84.92,308.07 L85.25,307.33 L85.60,306.60 L85.96,305.88 L86.34,305.15 L86.74,304.43 L87.16,303.72 L87.61,303.01 L88.09,302.30 L88.60,301.59 L89.15,300.88 L89.74,300.18 L90.37,299.49 L91.03,298.84 L91.72,298.24 L92.43,297.72 L93.15,297.30 L93.88,296.99 L94.61,296.83 L95.35,296.81 L96.07,296.97 L96.78,297.26 L97.48,297.68 L98.16,298.21 L98.81,298.83 L99.43,299.51 L100.02,300.24 L100.57,301.00 L101.07,301.77 L101.54,302.55 L101.96,303.31 L102.35,304.08 L102.71,304.85 L103.04,305.61 L103.35,306.38 L103.64,307.14 L103.92,307.90 L104.19,308.66 L104.45,309.42 L104.72,310.18 L104.99,310.94 L105.27,311.70 L105.57,312.46 L105.87,313.22 L106.19,313.97 L106.51,314.73 L106.84,315.49 L107.18,316.25 L107.52,317.01 L107.87,317.77 L108.22,318.53 L108.58,319.29 L108.93,320.05 L109.29,320.81 L109.64,321.57 L110.00,322.34 L110.34,323.10 L110.69,323.86 L111.03,324.62 L111.37,325.38 L111.70,326.15 L112.04,326.91 L112.37,327.67 L112.70,328.44 L113.03,329.20 L113.36,329.96 L113.69,330.72 L114.02,331.48 L114.35,332.24 L114.69,333.00 L115.03,333.75 L115.37,334.51 L115.71,335.26 L116.06,336.02 L116.42,336.77 L116.77,337.52 L117.13,338.27 L117.50,339.01 L117.86,339.76 L118.23,340.50 L118.61,341.25 L118.98,341.99 L119.36,342.73 L119.75,343.47 L120.13,344.21 L120.52,344.94 L120.91,345.68 L121.30,346.42 L121.69,347.15 L122.09,347.88 L122.50,348.61 L122.90,349.33 L123.32,350.05 L123.74,350.77 L124.16,351.49 L124.59,352.20 L125.03,352.90 L125.48,353.60 L125.93,354.30 L126.39,354.99 L126.86,355.67 L127.34,356.35 L127.82,357.02 L128.31,357.69 L128.80,358.36 L129.30,359.03 L129.80,359.69 L130.31,360.35 L130.81,361.01 L131.32,361.67 L131.83,362.33 L132.34,362.99 L132.85,363.65 L133.36,364.31 L133.87,364.97 L134.37,365.63 L134.87,366.30 L135.37,366.97 L135.87,367.64 L136.37,368.31 L136.86,368.98 L137.36,369.65 L137.85,370.33 L138.35,371.00 L138.84,371.67 L139.34,372.34 L139.84,373.01 L140.34,373.68 L140.84,374.34 L141.35,375.00 L141.86,375.66 L142.37,376.31 L142.90,376.95 L143.42,377.60 L143.95,378.23 L144.49,378.86 L145.04,379.48 L145.59,380.10 L146.15,380.71 L146.72,381.31 L147.30,381.90 L147.88,382.48 L148.48,383.06 L149.08,383.63 L149.69,384.19 L150.31,384.74 L150.94,385.28 L151.57,385.82 L152.21,386.36 L152.85,386.88 L153.50,387.40 L154.15,387.92 L154.81,388.43 L155.48,388.94 L156.14,389.44 L156.81,389.94 L157.49,390.44 L158.16,390.93 L158.84,391.42 L159.52,391.91 L160.20,392.40 L160.88,392.88 L161.56,393.37 L162.24,393.85 L162.93,394.33 L163.61,394.81 L164.29,395.30 L164.97,395.78 L165.65,396.26 L166.32,396.75 L166.99,397.23 L167.66,397.72 L168.33,398.21 L168.99,398.70 L169.65,399.20 L170.30,399.70" stroke="#00f" stroke-dasharray="6 2.4"/>
<path d="M1.50,399.70 L2.28,399.68 L3.10,399.63 L3.93,399.55 L4.77,399.43 L5.62,399.28 L6.46,399.08 L7.30,398.85 L8.11,398.57 L8.90,398.25 L9.66,397.88 L10.38,397.46 L11.04,396.98 L11.66,396.45 L12.21,395.86 L12.71,395.22 L13.15,394.53 L13.56,393.81 L13.93,393.05 L14.26,392.27 L14.57,391.47 L14.87,390.65 L15.15,389.83 L15.43,389.02 L15.70,388.20 L15.98,387.40 L16.26,386.60 L16.54,385.81 L16.83,385.02 L17.12,384.24 L17.40,383.46 L17.69,382.69 L17.98,381.92 L18.28,381.15 L18.57,380.38 L18.87,379.61 L19.17,378.84 L19.47,378.07 L19.77,377.30 L20.08,376.53 L20.40,375.76 L20.73,374.99 L21.08,374.23 L21.44,373.48 L21.82,372.74 L22.23,372.01 L22.67,371.29 L23.14,370.59 L23.64,369.90 L24.18,369.24 L24.76,368.62 L25.38,368.06 L26.05,367.57 L26.76,367.16 L27.53,366.84 L28.33,366.59 L29.14,366.39 L29.97,366.23 L30.80,366.09 L31.62,365.97 L32.44,365.86 L33.27,365.76 L34.09,365.66 L34.92,365.56 L35.75,365.45 L36.57,365.33 L37.40,365.19 L38.23,365.04 L39.05,364.86 L39.86,364.65 L40.66,364.41 L41.45,364.14 L42.22,363.83 L42.97,363.48 L43.70,363.09 L44.41,362.66 L45.11,362.21 L45.80,361.73 L46.47,361.24 L47.15,360.73 L47.81,360.21 L48.47,359.70 L49.13,359.17 L49.78,358.64 L50.42,358.11 L51.06,357.57 L51.68,357.01 L52.29,356.45 L52.89,355.87 L53.47,355.28 L54.04,354.68 L54.59,354.06 L55.12,353.42 L55.63,352.77 L56.13,352.11 L56.62,351.43 L57.09,350.74 L57.55,350.04 L57.99,349.34 L58.43,348.62 L58.86,347.90 L59.28,347.18 L59.69,346.45 L60.10,345.71 L60.50,344.98 L60.90,344.24 L61.30,343.50 L61.69,342.76 L62.08,342.02 L62.46,341.28 L62.84,340.54 L63.22,339.80 L63.60,339.06 L63.97,338.31 L64.33,337.57 L64.70,336.82 L65.06,336.07 L65.42,335.32 L65.77,334.57 L66.12,333.81 L66.47,333.06 L66.81,332.30 L67.15,331.54 L67.49,330.78 L67.83,330.02 L68.16,329.25 L68.50,328.49 L68.83,327.73 L69.16,326.96 L69.49,326.19 L69.82,325.43 L70.15,324.66 L70.47,323.90 L70.80,323.13 L71.13,322.36 L71.46,321.60 L71.79,320.83 L72.11,320.06 L72.44,319.30 L72.77,318.53 L73.10,317.76 L73.43,317.00 L73.76,316.23 L74.08,315.47 L74.41,314.70 L74.74,313.94 L75.07,313.18 L75.40,312.41 L75.72,311.65 L76.05,310.88 L76.38,310.12 L76.72,309.35 L77.05,308.59 L77.38,307.82 L77.72,307.06 L78.06,306.29 L78.40,305.53 L78.75,304.76 L79.10,304.00 L79.46,303.24 L79.82,302.49 L80.19,301.74 L80.58,301.00 L80.97,300.27 L81.38,299.55 L81.79,298.84 L82.22,298.14 L82.67,297.45 L83.13,296.78 L83.61,296.11 L84.10,295.45 L84.61,294.80 L85.14,294.15 L85.70,293.51 L86.27,292.87 L86.86,292.23 L87.48,291.61 L88.12,291.00 L88.79,290.44 L89.48,289.94 L90.21,289.52 L90.96,289.21 L91.75,289.02 L92.57,288.97 L93.40,289.05 L94.23,289.26 L95.03,289.56 L95.78,289.96 L96.47,290.44 L97.11,290.98 L97.71,291.56 L98.28,292.17 L98.84,292.80 L99.38,293.43 L99.91,294.08 L100.43,294.74 L100.93,295.41 L101.42,296.08 L101.89,296.77 L102.34,297.47 L102.79,298.18 L103.21,298.89 L103.62,299.62 L104.01,300.35 L104.39,301.09 L104.76,301.84 L105.11,302.59 L105.45,303.35 L105.78,304.12 L106.10,304.89 L106.42,305.66 L106.72,306.44 L107.03,307.22 L107.32,308.00 L107.62,308.78 L107.91,309.56 L108.20,310.35 L108.49,311.13 L108.78,311.91 L109.07,312.69 L109.36,313.47 L109.65,314.25 L109.94,315.03 L110.24,315.81 L110.53,316.59 L110.83,317.37 L111.14,318.14 L111.44,318.91 L111.76,319.69 L112.07,320.46 L112.39,321.22 L112.72,321.99 L113.05,322.76 L113.38,323.52 L113.72,324.28 L114.06,325.04 L114.40,325.80 L114.75,326.56 L115.10,327.32 L115.45,328.07 L115.81,328.82 L116.17,329.58 L116.53,330.33 L116.89,331.08 L117.25,331.83 L117.62,332.58 L117.98,333.33 L118.35,334.08 L118.72,334.82 L119.09,335.57 L119.46,336.32 L119.83,337.06 L120.20,337.81 L120.58,338.55 L120.95,339.30 L121.32,340.04 L121.69,340.79 L122.07,341.53 L122.44,342.28 L122.81,343.02 L123.18,343.77 L123.55,344.51 L123.92,345.26 L124.29,346.01 L124.66,346.75 L125.03,347.50 L125.39,348.25 L125.76,349.00 L126.13,349.75 L126.50,350.49 L126.86,351.24 L127.23,351.99 L127.60,352.74 L127.98,353.48 L128.36,354.22 L128.75,354.96 L129.14,355.69 L129.55,356.42 L129.97,357.14 L130.40,357.85 L130.84,358.55 L131.29,359.26 L131.74,359.95 L132.21,360.65 L132.67,361.34 L133.14,362.03 L133.61,362.72 L134.09,363.40 L134.56,364.09 L135.04,364.78 L135.51,365.47 L135.98,366.16 L136.46,366.85 L136.93,367.54 L137.41,368.23 L137.88,368.91 L138.36,369.60 L138.84,370.28 L139.32,370.97 L139.81,371.64 L140.30,372.32 L140.79,373.00 L141.29,373.67 L141.79,374.33 L142.29,374.99 L142.80,375.65 L143.32,376.31 L143.84,376.95 L144.37,377.60 L144.90,378.23 L145.44,378.86 L145.99,379.49 L146.54,380.11 L147.11,380.72 L147.68,381.32 L148.26,381.91 L148.84,382.50 L149.44,383.09 L150.04,383.66 L150.64,384.23 L151.25,384.80 L151.87,385.35 L152.50,385.91 L153.13,386.45 L153.76,387.00 L154.40,387.54 L155.04,388.07 L155.69,388.60 L156.34,389.12 L156.99,389.65 L157.65,390.17 L158.31,390.68 L158.97,391.19 L159.64,391.70 L160.30,392.21 L160.97,392.72 L161.64,393.22 L162.31,393.72 L162.98,394.22 L163.65,394.72 L164.32,395.22 L164.99,395.72 L165.66,396.21 L166.33,396.71 L166.99,397.21 L167.66,397.70 L168.32,398.20 L168.99,398.70 L169.64,399.20 L170.30,399.70" stroke="#000" stroke-dasharray="1.7 1.8"/>
<path d="M1.50,399.70 L2.28,399.68 L3.09,399.63 L3.92,399.54 L4.76,399.43 L5.61,399.28 L6.45,399.09 L7.29,398.85 L8.10,398.58 L8.89,398.26 L9.65,397.89 L10.36,397.47 L11.03,396.99 L11.64,396.46 L12.20,395.87 L12.69,395.23 L13.14,394.54 L13.54,393.82 L13.91,393.06 L14.25,392.28 L14.56,391.48 L14.85,390.67 L15.14,389.86 L15.42,389.04 L15.70,388.24 L15.98,387.44 L16.26,386.65 L16.55,385.87 L16.84,385.10 L17.13,384.32 L17.42,383.55 L17.71,382.78 L18.00,382.01 L18.29,381.24 L18.58,380.46 L18.87,379.68 L19.16,378.90 L19.44,378.10 L19.73,377.30 L20.03,376.51 L20.34,375.71 L20.67,374.94 L21.04,374.18 L21.44,373.44 L21.88,372.74 L22.38,372.08 L22.93,371.46 L23.55,370.90 L24.22,370.39 L24.95,369.95 L25.72,369.59 L26.52,369.33 L27.33,369.17 L28.15,369.10 L28.97,369.12 L29.81,369.19 L30.64,369.30 L31.48,369.41 L32.31,369.51 L33.15,369.58 L33.98,369.61 L34.82,369.61 L35.65,369.59 L36.48,369.54 L37.31,369.46 L38.14,369.37 L38.96,369.26 L39.79,369.14 L40.61,369.00 L41.43,368.84 L42.24,368.65 L43.05,368.45 L43.85,368.22 L44.64,367.96 L45.42,367.68 L46.19,367.37 L46.95,367.03 L47.70,366.67 L48.45,366.29 L49.18,365.90 L49.91,365.49 L50.64,365.07 L51.35,364.63 L52.06,364.17 L52.75,363.70 L53.43,363.22 L54.09,362.71 L54.74,362.19 L55.38,361.65 L55.99,361.09 L56.59,360.52 L57.16,359.92 L57.72,359.30 L58.25,358.67 L58.77,358.02 L59.28,357.36 L59.76,356.69 L60.24,356.00 L60.70,355.31 L61.15,354.60 L61.60,353.89 L62.03,353.18 L62.46,352.46 L62.89,351.74 L63.31,351.01 L63.73,350.29 L64.15,349.56 L64.56,348.84 L64.97,348.12 L65.38,347.39 L65.79,346.67 L66.20,345.94 L66.60,345.21 L67.00,344.49 L67.40,343.76 L67.79,343.03 L68.18,342.30 L68.57,341.56 L68.96,340.83 L69.34,340.09 L69.73,339.36 L70.11,338.62 L70.48,337.87 L70.86,337.13 L71.23,336.39 L71.60,335.64 L71.98,334.90 L72.35,334.15 L72.72,333.41 L73.09,332.67 L73.46,331.92 L73.84,331.18 L74.21,330.44 L74.59,329.69 L74.97,328.95 L75.35,328.22 L75.74,327.48 L76.13,326.75 L76.52,326.02 L76.92,325.29 L77.32,324.56 L77.72,323.83 L78.12,323.11 L78.53,322.39 L78.94,321.66 L79.34,320.94 L79.75,320.21 L80.16,319.49 L80.57,318.76 L80.98,318.03 L81.39,317.30 L81.80,316.56 L82.21,315.83 L82.62,315.10 L83.02,314.37 L83.43,313.65 L83.84,312.94 L84.24,312.23 L84.65,311.53 L85.05,310.83 L85.47,310.14 L85.89,309.46 L86.32,308.77 L86.76,308.09 L87.22,307.40 L87.69,306.70 L88.18,306.00 L88.70,305.29 L89.24,304.57 L89.81,303.84 L90.41,303.12 L91.03,302.43 L91.67,301.78 L92.33,301.20 L93.02,300.71 L93.71,300.34 L94.43,300.09 L95.15,300.00 L95.89,300.07 L96.63,300.29 L97.36,300.65 L98.09,301.11 L98.79,301.66 L99.47,302.29 L100.11,302.96 L100.71,303.66 L101.26,304.38 L101.77,305.10 L102.23,305.82 L102.66,306.54 L103.05,307.27 L103.42,308.00 L103.77,308.73 L104.11,309.47 L104.45,310.21 L104.78,310.95 L105.11,311.69 L105.45,312.44 L105.79,313.19 L106.14,313.95 L106.49,314.70 L106.84,315.46 L107.19,316.22 L107.54,316.98 L107.89,317.74 L108.24,318.50 L108.59,319.26 L108.94,320.02 L109.28,320.79 L109.62,321.55 L109.96,322.31 L110.30,323.07 L110.63,323.84 L110.97,324.60 L111.30,325.36 L111.63,326.12 L111.97,326.89 L112.30,327.65 L112.63,328.41 L112.97,329.17 L113.30,329.93 L113.64,330.69 L113.98,331.44 L114.31,332.20 L114.66,332.96 L115.00,333.71 L115.35,334.47 L115.69,335.22 L116.05,335.97 L116.40,336.72 L116.76,337.47 L117.12,338.22 L117.49,338.97 L117.85,339.71 L118.22,340.46 L118.60,341.20 L118.97,341.95 L119.35,342.69 L119.73,343.43 L120.11,344.17 L120.50,344.91 L120.89,345.64 L121.28,346.38 L121.67,347.11 L122.07,347.84 L122.48,348.57 L122.88,349.30 L123.30,350.02 L123.72,350.74 L124.14,351.46 L124.57,352.17 L125.01,352.87 L125.46,353.57 L125.91,354.27 L126.37,354.96 L126.84,355.64 L127.32,356.32 L127.80,357.00 L128.29,357.67 L128.78,358.34 L129.28,359.00 L129.78,359.66 L130.29,360.33 L130.79,360.99 L131.30,361.64 L131.81,362.30 L132.32,362.96 L132.83,363.62 L133.34,364.28 L133.85,364.94 L134.36,365.61 L134.86,366.28 L135.36,366.94 L135.86,367.61 L136.35,368.29 L136.85,368.96 L137.34,369.63 L137.84,370.31 L138.33,370.98 L138.83,371.65 L139.32,372.32 L139.82,372.99 L140.32,373.66 L140.83,374.32 L141.33,374.98 L141.85,375.64 L142.36,376.29 L142.88,376.94 L143.41,377.58 L143.94,378.22 L144.48,378.85 L145.02,379.47 L145.58,380.09 L146.14,380.70 L146.71,381.30 L147.28,381.89 L147.87,382.47 L148.47,383.05 L149.07,383.62 L149.68,384.18 L150.30,384.73 L150.93,385.27 L151.56,385.81 L152.20,386.35 L152.84,386.88 L153.49,387.40 L154.14,387.91 L154.80,388.43 L155.47,388.93 L156.13,389.44 L156.80,389.94 L157.48,390.43 L158.15,390.93 L158.83,391.42 L159.51,391.91 L160.19,392.40 L160.87,392.88 L161.56,393.36 L162.24,393.85 L162.92,394.33 L163.60,394.81 L164.29,395.29 L164.96,395.78 L165.64,396.26 L166.32,396.75 L166.99,397.23 L167.66,397.72 L168.33,398.21 L168.99,398.70 L169.65,399.20 L170.30,399.70" stroke="#f0f" stroke-dasharray="3.4 3.6"/>
</g>
<rect x="1.25" y="262.5" width="169.25" height="137.39999999999998" fill="none" stroke="#000" stroke-width="1.7"/>
<path d="M29.6,399.9v-8.6M29.6,262.5v8.6M57.9,399.9v-8.6M57.9,262.5v8.6M86.2,399.9v-8.6M86.2,262.5v8.6M114.2,399.9v-8.6M114.2,262.5v8.6M142.5,399.9v-8.6M142.5,262.5v8.6M1.25,273.3h8.6M1.25,315.5h8.6M1.25,357.7h8.6M170.5,273.3h-8.6M170.5,315.5h-8.6M170.5,357.7h-8.6M1.25,294.4h4.2M170.5,294.4h-4.2M1.25,336.6h4.2M170.5,336.6h-4.2M1.25,378.8h4.2M170.5,378.8h-4.2" stroke="#000" stroke-width="1.7" fill="none"/>
<text transform="translate(1.5 418.5) scale(1 1.1)" class="tk" text-anchor="middle">0</text>
<text transform="translate(29.8 418.5) scale(1 1.1)" class="tk" text-anchor="middle">30</text>
<text transform="translate(58 418.5) scale(1 1.1)" class="tk" text-anchor="middle">60</text>
<text transform="translate(86.3 418.5) scale(1 1.1)" class="tk" text-anchor="middle">90</text>
<text transform="translate(114.3 418.5) scale(1 1.1)" class="tk" text-anchor="middle">120</text>
<text transform="translate(142.5 418.5) scale(1 1.1)" class="tk" text-anchor="middle">150</text>
<text transform="translate(170.75 418.5) scale(1 1.1)" class="tk" text-anchor="middle">180</text>
<text transform="translate(57.4 438.3) scale(1 1.1)">θ<tspan class="sub" dy="3.8">cm</tspan><tspan dy="-3.8"> (deg)</tspan></text>
<text transform="translate(39.7 284.6) scale(1 1.06)" class="lab">A<tspan class="sub" dy="3.8">0y</tspan></text>
</g>
<g id="br">
<path d="M274.4,276.09999999999997V283.7M270.0,276.09999999999997h8.8M270.0,283.7h8.8M286,290.7V297.7M281.6,290.7h8.8M281.6,297.7h8.8M297,291.1V301.1M292.6,291.1h8.8M292.6,301.1h8.8M308,313.2V323.2M303.6,313.2h8.8M303.6,323.2h8.8M317.9,333.5V345.9M313.5,333.5h8.8M313.5,345.9h8.8M327.5,336.5V346.1M323.1,336.5h8.8M323.1,346.1h8.8M337.2,330.4V340.0M332.8,330.4h8.8M332.8,340.0h8.8M345.1,315.8V325.40000000000003M340.70000000000005,315.8h8.8M340.70000000000005,325.40000000000003h8.8M353.5,311.8V323.40000000000003M349.1,311.8h8.8M349.1,323.40000000000003h8.8M361.2,307.3V319.90000000000003M356.8,307.3h8.8M356.8,319.90000000000003h8.8M368.4,297.5V307.5M364.0,297.5h8.8M364.0,307.5h8.8M375.2,304.0V312.4M370.8,304.0h8.8M370.8,312.4h8.8M381.8,303.8V312.2M377.40000000000003,303.8h8.8M377.40000000000003,312.2h8.8" stroke="#000" stroke-width="1.6" fill="none"/>
<circle cx="274.4" cy="279.9" r="4.1" fill="#000"/>
<circle cx="286" cy="294.2" r="4.1" fill="#000"/>
<circle cx="297" cy="296.1" r="4.1" fill="#000"/>
<circle cx="308" cy="318.2" r="4.1" fill="#000"/>
<circle cx="317.9" cy="339.7" r="4.1" fill="#000"/>
<circle cx="327.5" cy="341.3" r="4.1" fill="#000"/>
<circle cx="337.2" cy="335.2" r="4.1" fill="#000"/>
<circle cx="345.1" cy="320.6" r="4.1" fill="#000"/>
<circle cx="353.5" cy="317.6" r="4.1" fill="#000"/>
<circle cx="361.2" cy="313.6" r="4.1" fill="#000"/>
<circle cx="368.4" cy="302.5" r="4.1" fill="#000"/>
<circle cx="375.2" cy="308.2" r="4.1" fill="#000"/>
<circle cx="381.8" cy="308" r="4.1" fill="#000"/>
<g clip-path="url(#cR)" fill="none" stroke-width="1.6">
<path d="M240.00,356.00 L240.48,356.65 L240.95,357.31 L241.42,357.99 L241.88,358.69 L242.33,359.41 L242.78,360.13 L243.21,360.86 L243.65,361.60 L244.07,362.34 L244.48,363.09 L244.89,363.83 L245.28,364.58 L245.66,365.31 L246.04,366.05 L246.40,366.77 L246.75,367.48 L247.09,368.18 L247.41,368.87 L247.73,369.55 L248.05,370.24 L248.36,370.95 L248.68,371.69 L249.00,372.46 L249.33,373.28 L249.67,374.15 L250.03,375.09 L250.42,376.09 L250.82,377.07 L251.25,377.97 L251.72,378.69 L252.22,379.16 L252.75,379.31 L253.33,379.07 L253.92,378.52 L254.50,377.76 L255.05,376.93 L255.53,376.08 L255.95,375.26 L256.32,374.44 L256.64,373.63 L256.92,372.83 L257.15,372.03 L257.36,371.25 L257.53,370.46 L257.68,369.68 L257.81,368.90 L257.92,368.12 L258.03,367.34 L258.13,366.55 L258.23,365.76 L258.33,364.97 L258.44,364.17 L258.55,363.37 L258.67,362.57 L258.78,361.76 L258.90,360.95 L259.02,360.13 L259.14,359.31 L259.26,358.49 L259.39,357.67 L259.51,356.84 L259.64,356.02 L259.76,355.19 L259.88,354.35 L260.01,353.52 L260.13,352.69 L260.25,351.85 L260.37,351.02 L260.49,350.18 L260.61,349.35 L260.72,348.51 L260.83,347.68 L260.94,346.84 L261.05,346.01 L261.15,345.17 L261.25,344.34 L261.35,343.51 L261.44,342.68 L261.53,341.85 L261.62,341.02 L261.71,340.19 L261.80,339.36 L261.88,338.53 L261.96,337.71 L262.04,336.88 L262.13,336.05 L262.21,335.23 L262.29,334.40 L262.36,333.58 L262.44,332.75 L262.52,331.93 L262.60,331.11 L262.68,330.28 L262.77,329.46 L262.85,328.63 L262.93,327.81 L263.02,326.99 L263.10,326.16 L263.19,325.34 L263.28,324.52 L263.38,323.69 L263.47,322.87 L263.57,322.05 L263.67,321.22 L263.78,320.40 L263.88,319.58 L264.00,318.75 L264.11,317.93 L264.23,317.10 L264.35,316.28 L264.48,315.46 L264.61,314.64 L264.74,313.81 L264.88,312.99 L265.02,312.17 L265.17,311.35 L265.32,310.54 L265.48,309.72 L265.64,308.91 L265.80,308.09 L265.97,307.28 L266.15,306.47 L266.33,305.66 L266.52,304.86 L266.71,304.06 L266.91,303.25 L267.13,302.46 L267.36,301.66 L267.60,300.87 L267.86,300.08 L268.14,299.29 L268.44,298.50 L268.76,297.72 L269.11,296.95 L269.48,296.18 L269.89,295.44 L270.35,294.73 L270.86,294.06 L271.43,293.46 L272.06,292.93 L272.76,292.48 L273.52,292.12 L274.32,291.85 L275.15,291.67 L275.99,291.60 L276.82,291.62 L277.65,291.72 L278.46,291.90 L279.27,292.13 L280.07,292.39 L280.85,292.69 L281.62,293.01 L282.38,293.36 L283.13,293.73 L283.86,294.13 L284.57,294.55 L285.27,295.00 L285.96,295.47 L286.63,295.96 L287.28,296.48 L287.92,297.00 L288.55,297.54 L289.18,298.09 L289.80,298.65 L290.42,299.21 L291.03,299.77 L291.64,300.34 L292.24,300.91 L292.84,301.49 L293.43,302.08 L294.01,302.67 L294.59,303.26 L295.17,303.87 L295.73,304.48 L296.29,305.09 L296.84,305.71 L297.38,306.34 L297.91,306.98 L298.44,307.62 L298.96,308.27 L299.47,308.92 L299.98,309.58 L300.49,310.24 L300.99,310.90 L301.48,311.57 L301.98,312.24 L302.47,312.91 L302.96,313.58 L303.44,314.26 L303.93,314.93 L304.42,315.61 L304.90,316.28 L305.39,316.95 L305.88,317.62 L306.37,318.29 L306.86,318.96 L307.34,319.63 L307.83,320.30 L308.32,320.98 L308.81,321.65 L309.30,322.32 L309.78,322.99 L310.27,323.67 L310.76,324.34 L311.24,325.02 L311.72,325.70 L312.20,326.38 L312.68,327.06 L313.16,327.75 L313.64,328.43 L314.11,329.12 L314.58,329.81 L315.05,330.51 L315.51,331.20 L315.98,331.89 L316.43,332.58 L316.89,333.27 L317.33,333.96 L317.78,334.65 L318.22,335.34 L318.65,336.03 L319.09,336.72 L319.53,337.40 L319.98,338.09 L320.43,338.78 L320.91,339.47 L321.40,340.17 L321.91,340.87 L322.44,341.58 L323.01,342.26 L323.61,342.88 L324.26,343.41 L324.95,343.81 L325.71,344.05 L326.52,344.11 L327.36,344.01 L328.20,343.80 L329.01,343.49 L329.78,343.12 L330.50,342.70 L331.19,342.24 L331.85,341.74 L332.50,341.22 L333.13,340.69 L333.76,340.15 L334.39,339.61 L335.01,339.05 L335.63,338.50 L336.24,337.93 L336.84,337.35 L337.43,336.77 L338.01,336.18 L338.58,335.58 L339.15,334.97 L339.71,334.36 L340.26,333.74 L340.81,333.12 L341.36,332.49 L341.91,331.86 L342.45,331.24 L343.00,330.61 L343.54,329.98 L344.09,329.35 L344.65,328.73 L345.21,328.11 L345.77,327.49 L346.34,326.89 L346.92,326.29 L347.51,325.71 L348.11,325.13 L348.72,324.57 L349.35,324.02 L349.99,323.49 L350.64,322.98 L351.30,322.48 L351.98,322.00 L352.67,321.54 L353.37,321.09 L354.08,320.65 L354.79,320.22 L355.51,319.80 L356.24,319.40 L356.97,319.00 L357.71,318.61 L358.45,318.24 L359.20,317.87 L359.95,317.51 L360.71,317.17 L361.47,316.84 L362.23,316.52 L363.01,316.21 L363.78,315.91 L364.56,315.62 L365.35,315.35 L366.14,315.09 L366.93,314.84 L367.73,314.61 L368.54,314.39 L369.34,314.19 L370.15,314.01 L370.97,313.85 L371.78,313.70 L372.60,313.57 L373.43,313.45 L374.25,313.34 L375.08,313.25 L375.91,313.17 L376.74,313.10 L377.57,313.03 L378.40,312.98 L379.23,312.92 L380.07,312.88 L380.90,312.83 L381.73,312.79 L382.57,312.75 L383.40,312.71 L384.23,312.66 L385.06,312.62 L385.89,312.56 L386.72,312.51 L387.54,312.44 L388.36,312.37 L389.18,312.29 L390.00,312.20" stroke="#000"/>
<path d="M240.00,356.00 L240.49,356.64 L240.98,357.30 L241.45,357.99 L241.90,358.69 L242.35,359.40 L242.79,360.13 L243.21,360.87 L243.63,361.62 L244.03,362.37 L244.42,363.13 L244.81,363.89 L245.18,364.64 L245.55,365.40 L245.90,366.14 L246.25,366.88 L246.59,367.61 L246.92,368.32 L247.24,369.02 L247.56,369.72 L247.87,370.41 L248.17,371.11 L248.48,371.83 L248.78,372.58 L249.08,373.36 L249.39,374.20 L249.70,375.09 L250.01,376.04 L250.34,377.06 L250.67,378.09 L251.03,379.08 L251.42,379.98 L251.85,380.72 L252.32,381.24 L252.85,381.50 L253.44,381.43 L254.08,381.05 L254.73,380.44 L255.34,379.71 L255.90,378.93 L256.37,378.15 L256.78,377.37 L257.12,376.58 L257.40,375.78 L257.64,374.99 L257.83,374.18 L257.99,373.38 L258.12,372.57 L258.22,371.76 L258.31,370.95 L258.39,370.13 L258.47,369.32 L258.55,368.50 L258.64,367.69 L258.73,366.87 L258.83,366.05 L258.93,365.23 L259.04,364.41 L259.15,363.59 L259.26,362.77 L259.38,361.95 L259.50,361.12 L259.63,360.30 L259.75,359.48 L259.88,358.65 L260.01,357.83 L260.14,357.01 L260.27,356.18 L260.40,355.35 L260.53,354.53 L260.66,353.70 L260.79,352.87 L260.92,352.05 L261.04,351.22 L261.16,350.39 L261.28,349.56 L261.40,348.73 L261.51,347.91 L261.62,347.08 L261.73,346.25 L261.83,345.42 L261.93,344.59 L262.02,343.76 L262.11,342.93 L262.20,342.10 L262.29,341.27 L262.38,340.44 L262.46,339.61 L262.55,338.78 L262.63,337.95 L262.71,337.12 L262.79,336.30 L262.88,335.47 L262.96,334.64 L263.04,333.81 L263.12,332.98 L263.21,332.16 L263.29,331.33 L263.38,330.50 L263.47,329.68 L263.56,328.85 L263.66,328.03 L263.75,327.21 L263.85,326.38 L263.95,325.56 L264.06,324.74 L264.17,323.92 L264.29,323.10 L264.40,322.28 L264.53,321.46 L264.66,320.64 L264.79,319.82 L264.92,319.01 L265.06,318.19 L265.20,317.37 L265.34,316.56 L265.49,315.74 L265.64,314.92 L265.79,314.10 L265.95,313.28 L266.10,312.46 L266.26,311.64 L266.42,310.82 L266.58,310.00 L266.75,309.18 L266.91,308.35 L267.07,307.53 L267.25,306.70 L267.43,305.88 L267.64,305.07 L267.87,304.26 L268.14,303.47 L268.44,302.70 L268.79,301.94 L269.18,301.21 L269.64,300.50 L270.15,299.81 L270.73,299.18 L271.35,298.60 L272.03,298.10 L272.75,297.68 L273.52,297.36 L274.32,297.15 L275.15,297.04 L276.00,297.01 L276.84,297.06 L277.67,297.17 L278.49,297.33 L279.29,297.53 L280.09,297.77 L280.89,298.03 L281.69,298.30 L282.48,298.60 L283.27,298.93 L284.03,299.30 L284.75,299.72 L285.42,300.19 L286.04,300.74 L286.59,301.35 L287.10,302.01 L287.61,302.68 L288.13,303.33 L288.68,303.96 L289.25,304.57 L289.83,305.16 L290.43,305.74 L291.04,306.31 L291.66,306.88 L292.28,307.44 L292.89,307.99 L293.51,308.56 L294.12,309.12 L294.71,309.70 L295.30,310.29 L295.86,310.89 L296.41,311.51 L296.94,312.15 L297.46,312.80 L297.96,313.46 L298.45,314.13 L298.93,314.81 L299.40,315.49 L299.86,316.19 L300.32,316.89 L300.77,317.59 L301.22,318.30 L301.67,319.01 L302.12,319.72 L302.57,320.42 L303.02,321.12 L303.48,321.82 L303.94,322.52 L304.41,323.21 L304.88,323.90 L305.35,324.58 L305.83,325.26 L306.31,325.94 L306.80,326.62 L307.29,327.29 L307.77,327.96 L308.27,328.63 L308.76,329.30 L309.25,329.97 L309.75,330.64 L310.24,331.31 L310.74,331.98 L311.23,332.65 L311.72,333.32 L312.22,333.98 L312.72,334.65 L313.22,335.31 L313.73,335.97 L314.25,336.63 L314.77,337.27 L315.31,337.91 L315.85,338.54 L316.41,339.16 L316.98,339.77 L317.56,340.37 L318.16,340.95 L318.78,341.51 L319.41,342.06 L320.07,342.57 L320.74,343.06 L321.44,343.52 L322.17,343.94 L322.92,344.33 L323.70,344.67 L324.50,344.95 L325.31,345.14 L326.13,345.20 L326.93,345.12 L327.72,344.91 L328.50,344.59 L329.27,344.19 L330.01,343.74 L330.73,343.25 L331.43,342.74 L332.11,342.22 L332.77,341.70 L333.42,341.16 L334.04,340.61 L334.65,340.05 L335.25,339.49 L335.84,338.91 L336.41,338.33 L336.98,337.74 L337.54,337.13 L338.09,336.52 L338.65,335.91 L339.19,335.28 L339.74,334.66 L340.28,334.02 L340.82,333.39 L341.36,332.75 L341.90,332.11 L342.44,331.48 L342.98,330.84 L343.52,330.20 L344.07,329.57 L344.63,328.94 L345.18,328.32 L345.75,327.71 L346.32,327.10 L346.90,326.50 L347.49,325.91 L348.09,325.34 L348.71,324.78 L349.33,324.23 L349.97,323.70 L350.62,323.19 L351.29,322.70 L351.97,322.22 L352.66,321.75 L353.36,321.30 L354.07,320.86 L354.79,320.43 L355.51,320.00 L356.23,319.59 L356.96,319.19 L357.69,318.79 L358.43,318.41 L359.17,318.03 L359.92,317.67 L360.68,317.31 L361.44,316.97 L362.20,316.64 L362.97,316.32 L363.75,316.02 L364.53,315.73 L365.31,315.45 L366.10,315.19 L366.90,314.94 L367.70,314.71 L368.50,314.50 L369.31,314.30 L370.12,314.12 L370.94,313.95 L371.76,313.80 L372.58,313.67 L373.40,313.55 L374.23,313.45 L375.06,313.35 L375.89,313.27 L376.72,313.20 L377.55,313.13 L378.38,313.07 L379.22,313.02 L380.05,312.97 L380.89,312.93 L381.72,312.89 L382.55,312.84 L383.39,312.80 L384.22,312.76 L385.05,312.71 L385.88,312.66 L386.71,312.60 L387.54,312.54 L388.36,312.47 L389.18,312.39 L390.00,312.30" stroke="#00f" stroke-dasharray="6 2.4"/>
<path d="M240.00,356.00 L240.47,356.65 L240.93,357.33 L241.38,358.02 L241.82,358.74 L242.25,359.46 L242.67,360.20 L243.08,360.95 L243.48,361.70 L243.87,362.47 L244.25,363.24 L244.62,364.00 L244.98,364.77 L245.33,365.54 L245.67,366.31 L246.00,367.06 L246.31,367.81 L246.62,368.55 L246.91,369.28 L247.19,369.99 L247.46,370.69 L247.73,371.39 L247.99,372.09 L248.25,372.81 L248.51,373.55 L248.78,374.32 L249.06,375.13 L249.34,375.98 L249.64,376.89 L249.95,377.85 L250.28,378.88 L250.64,379.94 L251.01,380.98 L251.42,381.96 L251.84,382.83 L252.30,383.55 L252.79,384.06 L253.31,384.33 L253.87,384.31 L254.46,383.97 L255.05,383.38 L255.60,382.64 L256.09,381.84 L256.49,381.06 L256.81,380.29 L257.08,379.52 L257.31,378.76 L257.53,377.99 L257.73,377.21 L257.92,376.42 L258.10,375.63 L258.27,374.82 L258.42,374.02 L258.57,373.20 L258.71,372.38 L258.84,371.56 L258.96,370.73 L259.08,369.90 L259.19,369.06 L259.29,368.23 L259.40,367.39 L259.49,366.55 L259.59,365.70 L259.68,364.86 L259.78,364.02 L259.87,363.18 L259.96,362.34 L260.06,361.50 L260.15,360.66 L260.25,359.83 L260.35,358.99 L260.45,358.16 L260.55,357.33 L260.66,356.50 L260.76,355.67 L260.86,354.85 L260.97,354.02 L261.07,353.20 L261.18,352.37 L261.28,351.55 L261.39,350.73 L261.49,349.90 L261.60,349.08 L261.70,348.26 L261.81,347.44 L261.91,346.62 L262.01,345.80 L262.11,344.97 L262.21,344.15 L262.31,343.33 L262.41,342.51 L262.50,341.68 L262.60,340.86 L262.69,340.03 L262.78,339.21 L262.87,338.38 L262.95,337.55 L263.04,336.72 L263.12,335.90 L263.20,335.07 L263.29,334.24 L263.37,333.41 L263.46,332.58 L263.54,331.74 L263.63,330.92 L263.73,330.09 L263.82,329.26 L263.92,328.43 L264.03,327.60 L264.14,326.78 L264.25,325.95 L264.37,325.13 L264.50,324.30 L264.63,323.48 L264.78,322.67 L264.93,321.85 L265.09,321.04 L265.26,320.22 L265.43,319.41 L265.62,318.61 L265.82,317.80 L266.03,317.00 L266.25,316.20 L266.47,315.40 L266.70,314.60 L266.94,313.81 L267.18,313.01 L267.42,312.21 L267.67,311.41 L267.92,310.62 L268.16,309.82 L268.41,309.01 L268.67,308.22 L268.94,307.42 L269.24,306.65 L269.58,305.88 L269.96,305.15 L270.41,304.43 L270.92,303.76 L271.50,303.12 L272.14,302.54 L272.84,302.05 L273.59,301.65 L274.37,301.38 L275.17,301.24 L275.99,301.23 L276.83,301.32 L277.66,301.49 L278.49,301.70 L279.31,301.93 L280.11,302.18 L280.89,302.47 L281.65,302.80 L282.38,303.19 L283.07,303.63 L283.74,304.13 L284.37,304.68 L284.97,305.28 L285.53,305.91 L286.05,306.56 L286.53,307.24 L287.00,307.94 L287.45,308.63 L287.92,309.32 L288.40,309.99 L288.90,310.66 L289.41,311.31 L289.93,311.96 L290.46,312.59 L291.00,313.23 L291.55,313.86 L292.10,314.48 L292.66,315.10 L293.21,315.72 L293.77,316.34 L294.33,316.97 L294.88,317.59 L295.43,318.22 L295.97,318.85 L296.51,319.49 L297.04,320.13 L297.56,320.78 L298.08,321.43 L298.59,322.08 L299.10,322.74 L299.61,323.40 L300.11,324.07 L300.60,324.73 L301.10,325.40 L301.59,326.07 L302.08,326.75 L302.57,327.42 L303.06,328.10 L303.54,328.78 L304.03,329.45 L304.51,330.13 L305.00,330.81 L305.49,331.48 L305.98,332.16 L306.47,332.83 L306.97,333.50 L307.47,334.16 L307.97,334.83 L308.48,335.48 L309.00,336.13 L309.52,336.78 L310.05,337.42 L310.59,338.05 L311.14,338.67 L311.70,339.29 L312.26,339.89 L312.84,340.49 L313.43,341.08 L314.03,341.66 L314.64,342.23 L315.26,342.79 L315.89,343.34 L316.54,343.87 L317.21,344.38 L317.89,344.86 L318.60,345.30 L319.33,345.70 L320.09,346.04 L320.88,346.31 L321.69,346.52 L322.51,346.66 L323.35,346.71 L324.18,346.68 L325.02,346.57 L325.84,346.39 L326.64,346.14 L327.41,345.82 L328.15,345.45 L328.87,345.04 L329.57,344.58 L330.26,344.10 L330.93,343.60 L331.59,343.09 L332.25,342.57 L332.90,342.05 L333.53,341.51 L334.16,340.96 L334.78,340.40 L335.38,339.83 L335.98,339.25 L336.57,338.67 L337.14,338.07 L337.70,337.45 L338.25,336.83 L338.79,336.21 L339.33,335.57 L339.86,334.93 L340.38,334.29 L340.91,333.64 L341.43,332.99 L341.95,332.34 L342.47,331.69 L343.00,331.04 L343.53,330.40 L344.07,329.76 L344.62,329.13 L345.17,328.50 L345.74,327.89 L346.31,327.28 L346.89,326.68 L347.48,326.10 L348.09,325.53 L348.70,324.97 L349.33,324.43 L349.98,323.90 L350.63,323.39 L351.30,322.89 L351.98,322.42 L352.67,321.95 L353.37,321.50 L354.08,321.06 L354.79,320.62 L355.51,320.20 L356.23,319.79 L356.96,319.38 L357.70,318.99 L358.43,318.60 L359.18,318.23 L359.93,317.86 L360.68,317.51 L361.44,317.17 L362.20,316.84 L362.97,316.52 L363.75,316.22 L364.53,315.93 L365.32,315.65 L366.11,315.39 L366.90,315.14 L367.70,314.91 L368.51,314.70 L369.32,314.50 L370.13,314.32 L370.94,314.15 L371.76,314.00 L372.58,313.87 L373.40,313.75 L374.23,313.65 L375.06,313.55 L375.89,313.47 L376.72,313.40 L377.55,313.33 L378.38,313.27 L379.22,313.22 L380.05,313.17 L380.89,313.13 L381.72,313.09 L382.56,313.04 L383.39,313.00 L384.22,312.96 L385.05,312.91 L385.88,312.86 L386.71,312.80 L387.54,312.74 L388.36,312.67 L389.18,312.59 L390.00,312.50" stroke="#000" stroke-dasharray="1.7 1.8"/>
<path d="M240.00,356.00 L240.47,356.65 L240.93,357.33 L241.38,358.02 L241.82,358.74 L242.25,359.46 L242.67,360.20 L243.08,360.95 L243.48,361.70 L243.87,362.47 L244.25,363.24 L244.62,364.00 L244.98,364.77 L245.33,365.54 L245.67,366.31 L246.00,367.06 L246.31,367.81 L246.62,368.55 L246.91,369.28 L247.19,369.99 L247.46,370.69 L247.73,371.39 L247.99,372.09 L248.25,372.81 L248.51,373.55 L248.78,374.32 L249.06,375.13 L249.34,375.98 L249.64,376.89 L249.95,377.85 L250.28,378.88 L250.64,379.94 L251.01,380.98 L251.42,381.96 L251.84,382.83 L252.30,383.55 L252.79,384.06 L253.31,384.33 L253.87,384.31 L254.46,383.97 L255.05,383.38 L255.60,382.64 L256.09,381.84 L256.49,381.06 L256.81,380.29 L257.08,379.52 L257.31,378.76 L257.53,377.99 L257.73,377.21 L257.92,376.42 L258.10,375.63 L258.27,374.82 L258.42,374.02 L258.57,373.20 L258.71,372.38 L258.84,371.56 L258.96,370.73 L259.08,369.90 L259.19,369.06 L259.29,368.23 L259.40,367.39 L259.49,366.55 L259.59,365.70 L259.68,364.86 L259.78,364.02 L259.87,363.18 L259.96,362.34 L260.06,361.50 L260.15,360.66 L260.25,359.83 L260.35,358.99 L260.45,358.16 L260.55,357.33 L260.66,356.50 L260.76,355.67 L260.86,354.85 L260.97,354.02 L261.07,353.20 L261.18,352.37 L261.28,351.55 L261.39,350.73 L261.49,349.90 L261.60,349.08 L261.70,348.26 L261.81,347.44 L261.91,346.62 L262.01,345.80 L262.11,344.97 L262.21,344.15 L262.31,343.33 L262.41,342.51 L262.50,341.68 L262.60,340.86 L262.69,340.03 L262.78,339.21 L262.87,338.38 L262.95,337.55 L263.04,336.72 L263.12,335.90 L263.20,335.07 L263.29,334.24 L263.37,333.41 L263.46,332.58 L263.54,331.74 L263.63,330.92 L263.73,330.09 L263.82,329.26 L263.92,328.43 L264.03,327.60 L264.14,326.78 L264.25,325.95 L264.37,325.13 L264.50,324.30 L264.63,323.48 L264.78,322.67 L264.93,321.85 L265.09,321.04 L265.26,320.22 L265.43,319.41 L265.62,318.61 L265.82,317.80 L266.03,317.00 L266.25,316.20 L266.47,315.40 L266.70,314.60 L266.94,313.81 L267.18,313.01 L267.42,312.21 L267.67,311.41 L267.92,310.62 L268.16,309.82 L268.41,309.01 L268.67,308.22 L268.94,307.42 L269.24,306.65 L269.58,305.88 L269.96,305.15 L270.41,304.43 L270.92,303.76 L271.50,303.12 L272.14,302.54 L272.84,302.05 L273.59,301.65 L274.37,301.38 L275.17,301.24 L275.99,301.23 L276.83,301.32 L277.66,301.49 L278.49,301.70 L279.31,301.93 L280.11,302.18 L280.89,302.47 L281.65,302.80 L282.38,303.19 L283.07,303.63 L283.74,304.13 L284.37,304.68 L284.97,305.28 L285.53,305.91 L286.05,306.56 L286.53,307.24 L287.00,307.94 L287.45,308.63 L287.92,309.32 L288.40,309.99 L288.90,310.66 L289.41,311.31 L289.93,311.96 L290.46,312.59 L291.00,313.23 L291.55,313.86 L292.10,314.48 L292.66,315.10 L293.21,315.72 L293.77,316.34 L294.33,316.97 L294.88,317.59 L295.43,318.22 L295.97,318.85 L296.51,319.49 L297.04,320.13 L297.56,320.78 L298.08,321.43 L298.59,322.08 L299.10,322.74 L299.61,323.40 L300.11,324.07 L300.60,324.73 L301.10,325.40 L301.59,326.07 L302.08,326.75 L302.57,327.42 L303.06,328.10 L303.54,328.78 L304.03,329.45 L304.51,330.13 L305.00,330.81 L305.49,331.48 L305.98,332.16 L306.47,332.83 L306.97,333.50 L307.47,334.16 L307.97,334.83 L308.48,335.48 L309.00,336.13 L309.52,336.78 L310.05,337.42 L310.59,338.05 L311.14,338.67 L311.70,339.29 L312.26,339.89 L312.84,340.49 L313.43,341.08 L314.03,341.66 L314.64,342.23 L315.26,342.79 L315.89,343.34 L316.54,343.87 L317.21,344.38 L317.89,344.86 L318.60,345.30 L319.33,345.70 L320.09,346.04 L320.88,346.31 L321.69,346.52 L322.51,346.66 L323.35,346.71 L324.18,346.68 L325.02,346.57 L325.84,346.39 L326.64,346.14 L327.41,345.82 L328.15,345.45 L328.87,345.04 L329.57,344.58 L330.26,344.10 L330.93,343.60 L331.59,343.09 L332.25,342.57 L332.90,342.05 L333.53,341.51 L334.16,340.96 L334.78,340.40 L335.38,339.83 L335.98,339.25 L336.57,338.67 L337.14,338.07 L337.70,337.45 L338.25,336.83 L338.79,336.21 L339.33,335.57 L339.86,334.93 L340.38,334.29 L340.91,333.64 L341.43,332.99 L341.95,332.34 L342.47,331.69 L343.00,331.04 L343.53,330.40 L344.07,329.76 L344.62,329.13 L345.17,328.50 L345.74,327.89 L346.31,327.28 L346.89,326.68 L347.48,326.10 L348.09,325.53 L348.70,324.97 L349.33,324.43 L349.98,323.90 L350.63,323.39 L351.30,322.89 L351.98,322.42 L352.67,321.95 L353.37,321.50 L354.08,321.06 L354.79,320.62 L355.51,320.20 L356.23,319.79 L356.96,319.38 L357.70,318.99 L358.43,318.60 L359.18,318.23 L359.93,317.86 L360.68,317.51 L361.44,317.17 L362.20,316.84 L362.97,316.52 L363.75,316.22 L364.53,315.93 L365.32,315.65 L366.11,315.39 L366.90,315.14 L367.70,314.91 L368.51,314.70 L369.32,314.50 L370.13,314.32 L370.94,314.15 L371.76,314.00 L372.58,313.87 L373.40,313.75 L374.23,313.65 L375.06,313.55 L375.89,313.47 L376.72,313.40 L377.55,313.33 L378.38,313.27 L379.22,313.22 L380.05,313.17 L380.89,313.13 L381.72,313.09 L382.56,313.04 L383.39,313.00 L384.22,312.96 L385.05,312.91 L385.88,312.86 L386.71,312.80 L387.54,312.74 L388.36,312.67 L389.18,312.59 L390.00,312.50" stroke="#f0f" stroke-dasharray="3.4 3.6"/>
</g>
<rect x="239.1" y="262.5" width="161.20000000000002" height="137.39999999999998" fill="none" stroke="#000" stroke-width="1.7"/>
<path d="M266.3,399.9v-8.6M266.3,262.5v8.6M293.1,399.9v-8.6M293.1,262.5v8.6M319.9,399.9v-8.6M319.9,262.5v8.6M346.7,399.9v-8.6M346.7,262.5v8.6M373.5,399.9v-8.6M373.5,262.5v8.6M239.1,267.7h8.6M239.1,311.6h8.6M239.1,355.6h8.6M400.3,267.7h-8.6M400.3,311.6h-8.6M400.3,355.6h-8.6M239.1,289.7h4.2M400.3,289.7h-4.2M239.1,333.6h4.2M400.3,333.6h-4.2M239.1,377.6h4.2M400.3,377.6h-4.2" stroke="#000" stroke-width="1.7" fill="none"/>
<text transform="translate(240.7 418.5) scale(1 1.1)" class="tk" text-anchor="middle">0</text>
<text transform="translate(266.2 418.5) scale(1 1.1)" class="tk" text-anchor="middle">30</text>
<text transform="translate(292.7 418.5) scale(1 1.1)" class="tk" text-anchor="middle">60</text>
<text transform="translate(319.5 418.5) scale(1 1.1)" class="tk" text-anchor="middle">90</text>
<text transform="translate(346.2 418.5) scale(1 1.1)" class="tk" text-anchor="middle">120</text>
<text transform="translate(373.2 418.5) scale(1 1.1)" class="tk" text-anchor="middle">150</text>
<text transform="translate(231.5 272.5) scale(1 1.1)" class="tk" text-anchor="end">0.16</text>
<text transform="translate(231.5 316.3) scale(1 1.1)" class="tk" text-anchor="end">0.08</text>
<text transform="translate(231.5 360.3) scale(1 1.1)" class="tk" text-anchor="end">0</text>
<text transform="translate(231.5 404.5) scale(1 1.1)" class="tk" text-anchor="end">-0.08</text>
<text transform="translate(291.1 437.8) scale(1 1.1)">θ<tspan class="sub" dy="3.8">cm</tspan><tspan dy="-3.8"> (deg)</tspan></text>
<text transform="translate(319.2 284.6) scale(1 1.06)" class="lab">A<tspan class="sub" dy="3.8">yy</tspan></text>
</g>
</svg>
</body></html>
